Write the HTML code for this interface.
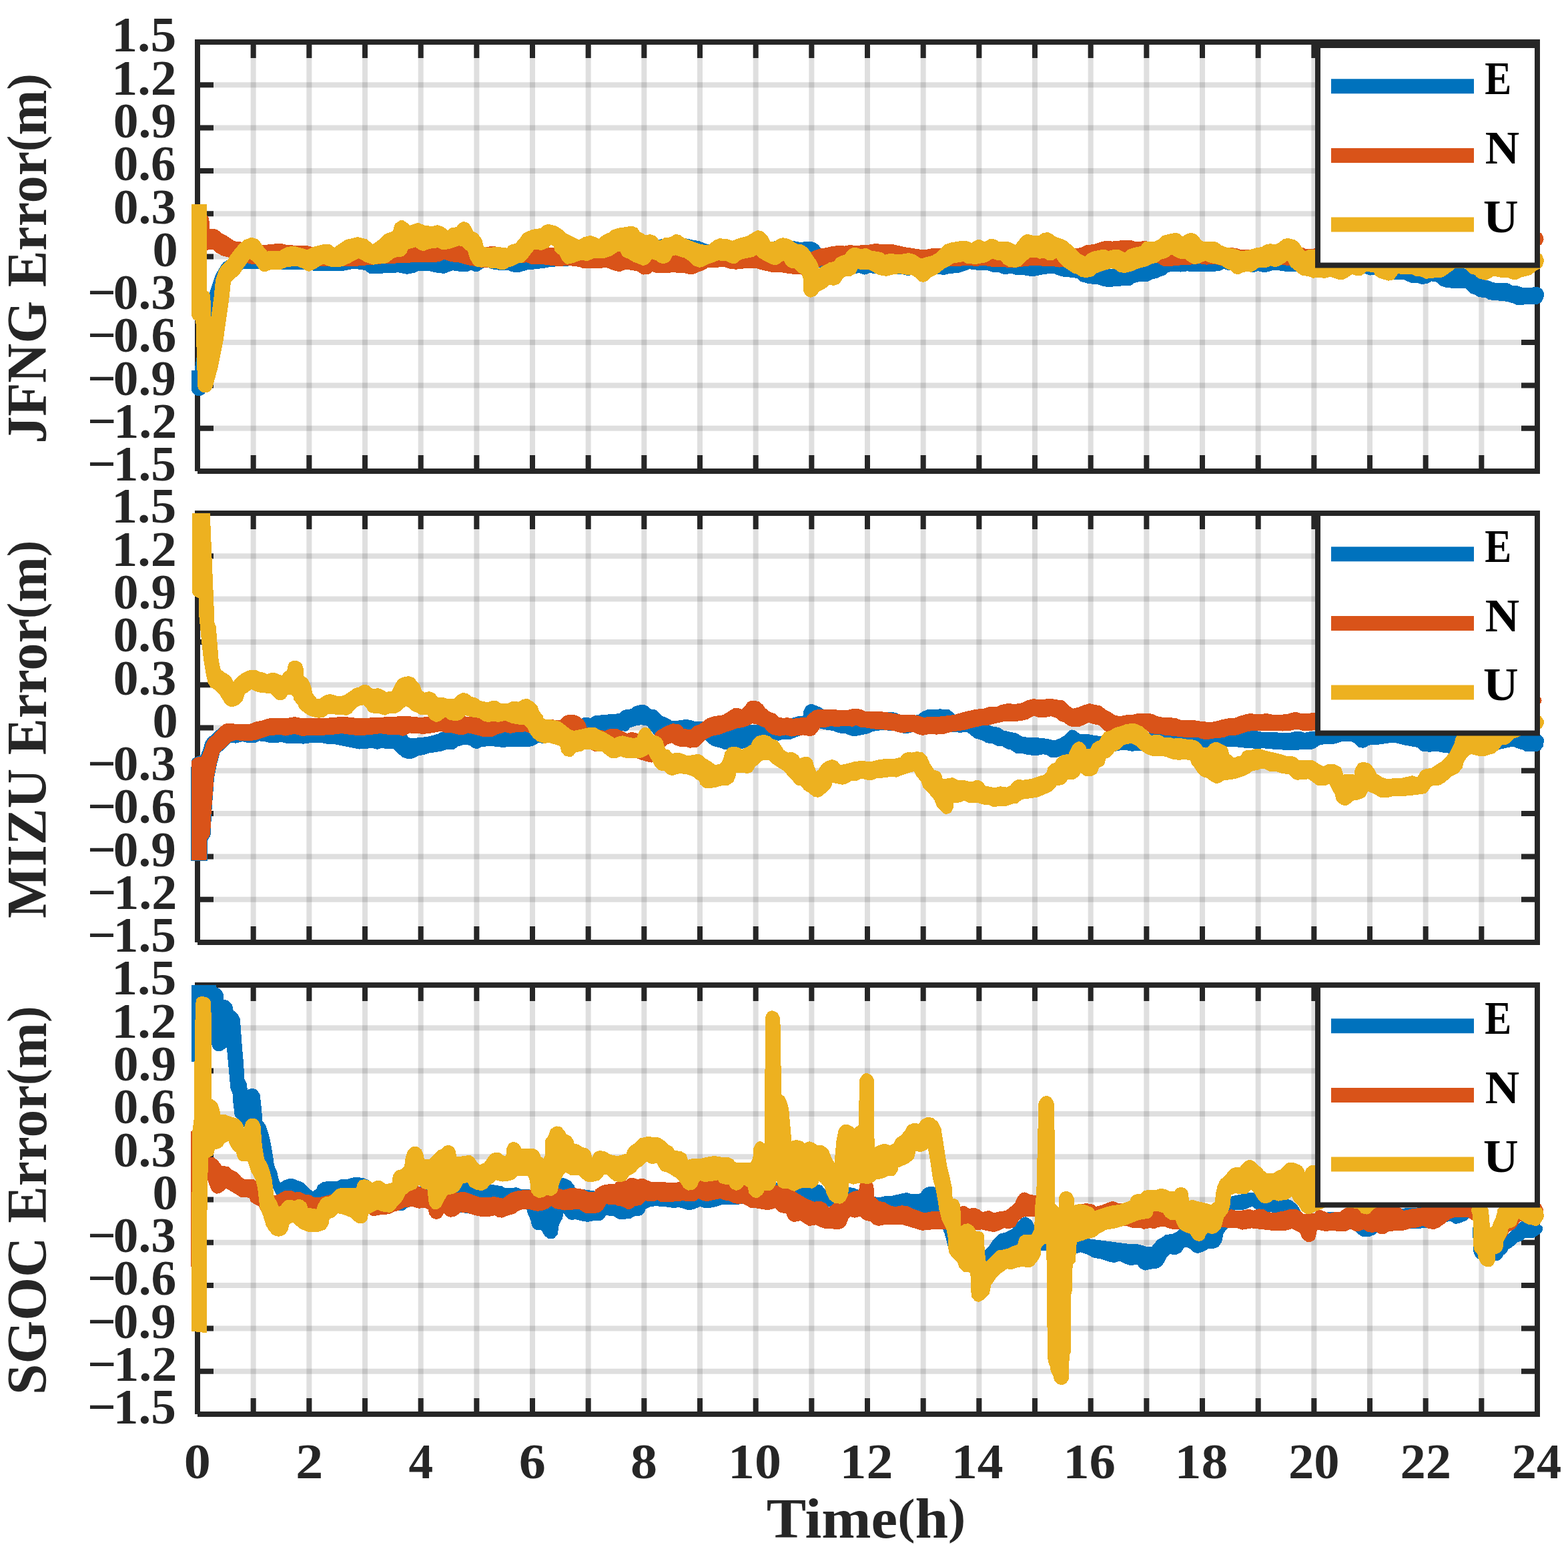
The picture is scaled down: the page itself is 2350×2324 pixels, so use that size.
<!DOCTYPE html>
<html lang="en"><head><meta charset="utf-8"><title>Positioning error of JFNG, MIZU and SGOC</title>
<style>html,body{margin:0;padding:0;background:#fff}body{width:2350px;height:2324px;overflow:hidden}svg{display:block}text{font-family:"Liberation Serif","DejaVu Serif",serif;font-weight:bold}</style>
</head><body>
<svg xmlns="http://www.w3.org/2000/svg" width="2350" height="2324" viewBox="0 0 2350 2324">
<rect width="2350" height="2324" fill="#fff"/>
<g id="panel1">
<path d="M379.67 63.00V706.00M463.33 63.00V706.00M547.00 63.00V706.00M630.67 63.00V706.00M714.33 63.00V706.00M798.00 63.00V706.00M881.67 63.00V706.00M965.33 63.00V706.00M1049.00 63.00V706.00M1132.67 63.00V706.00M1216.33 63.00V706.00M1300.00 63.00V706.00M1383.67 63.00V706.00M1467.33 63.00V706.00M1551.00 63.00V706.00M1634.67 63.00V706.00M1718.33 63.00V706.00M1802.00 63.00V706.00M1885.67 63.00V706.00M1969.33 63.00V706.00M2053.00 63.00V706.00M2136.67 63.00V706.00M2220.33 63.00V706.00" stroke="#262626" stroke-opacity="0.15" stroke-width="8" fill="none"/>
<path d="M296.00 127.30H2304.00M296.00 191.60H2304.00M296.00 255.90H2304.00M296.00 320.20H2304.00M296.00 384.50H2304.00M296.00 448.80H2304.00M296.00 513.10H2304.00M296.00 577.40H2304.00M296.00 641.70H2304.00" stroke="#262626" stroke-opacity="0.15" stroke-width="8" fill="none"/>
<path d="M379.67 63.00v24M379.67 706.00v-24M463.33 63.00v24M463.33 706.00v-24M547.00 63.00v24M547.00 706.00v-24M630.67 63.00v24M630.67 706.00v-24M714.33 63.00v24M714.33 706.00v-24M798.00 63.00v24M798.00 706.00v-24M881.67 63.00v24M881.67 706.00v-24M965.33 63.00v24M965.33 706.00v-24M1049.00 63.00v24M1049.00 706.00v-24M1132.67 63.00v24M1132.67 706.00v-24M1216.33 63.00v24M1216.33 706.00v-24M1300.00 63.00v24M1300.00 706.00v-24M1383.67 63.00v24M1383.67 706.00v-24M1467.33 63.00v24M1467.33 706.00v-24M1551.00 63.00v24M1551.00 706.00v-24M1634.67 63.00v24M1634.67 706.00v-24M1718.33 63.00v24M1718.33 706.00v-24M1802.00 63.00v24M1802.00 706.00v-24M1885.67 63.00v24M1885.67 706.00v-24M1969.33 63.00v24M1969.33 706.00v-24M2053.00 63.00v24M2053.00 706.00v-24M2136.67 63.00v24M2136.67 706.00v-24M2220.33 63.00v24M2220.33 706.00v-24M296.00 127.30h24M2304.00 127.30h-24M296.00 191.60h24M2304.00 191.60h-24M296.00 255.90h24M2304.00 255.90h-24M296.00 320.20h24M2304.00 320.20h-24M296.00 384.50h24M2304.00 384.50h-24M296.00 448.80h24M2304.00 448.80h-24M296.00 513.10h24M2304.00 513.10h-24M296.00 577.40h24M2304.00 577.40h-24M296.00 641.70h24M2304.00 641.70h-24" stroke="#262626" stroke-width="8" fill="none"/>
<path d="M296.0 706.0V63.0H2304.0V706.0H296.0" fill="none" stroke="#262626" stroke-width="8" stroke-linejoin="miter"/>
<clipPath id="clip0"><rect x="282.0" y="63.0" width="2036.0" height="643.0"/></clipPath>
<g clip-path="url(#clip0)" shape-rendering="crispEdges">
<path d="M286.8 555.8L287.0 583.7L287.5 585.9L289.1 588.9L292.5 591.9L296.7 593.4L301.2 593.1L305.3 591.1L308.2 587.7L309.7 583.8L316.4 546.8L323.3 501.9L330.2 464.9L338.0 439.5L344.5 419.9L350.3 410.4L357.2 406.3L363.9 403.6L368.0 402.6L386.6 402.6L405.7 403.7L425.9 404.1L452.5 404.1L471.7 405.7L514.9 405.7L531.2 402.6L546.7 404.9L553.0 409.3L554.7 410.1L556.5 410.4L569.8 410.4L575.7 409.2L597.0 408.4L609.7 410.9L621.5 408.6L627.0 406.1L642.2 405.8L650.4 408.0L664.2 409.8L667.0 409.5L678.1 405.3L692.5 407.3L701.4 406.7L706.0 404.6L710.5 406.7L715.0 406.9L716.9 406.6L718.6 405.7L723.3 402.2L729.2 399.9L736.2 403.1L748.3 404.8L761.8 404.9L766.8 407.1L769.3 407.6L779.6 407.6L790.1 404.5L815.9 401.8L824.2 399.9L855.6 398.3L917.8 396.8L995.1 390.6L1057.7 393.7L1182.1 387.5L1213.0 393.7L1228.6 402.0L1238.0 401.4L1260.2 407.7L1280.8 409.9L1287.6 409.2L1294.8 411.6L1297.5 411.3L1303.3 409.2L1312.7 410.0L1354.3 411.5L1360.7 413.2L1365.5 412.3L1404.0 410.8L1414.5 411.9L1416.6 411.7L1423.4 410.0L1438.1 408.6L1452.9 403.3L1461.8 404.2L1467.4 405.3L1480.7 405.3L1487.7 407.7L1497.7 408.4L1504.0 410.9L1509.3 411.1L1514.9 409.5L1521.5 411.7L1523.7 411.9L1530.4 411.5L1546.4 414.2L1548.6 414.1L1564.7 411.0L1578.5 409.5L1583.3 411.6L1591.8 414.4L1609.5 416.2L1615.4 417.6L1618.8 421.3L1620.4 422.1L1632.2 425.3L1645.2 426.0L1652.0 428.7L1660.2 430.1L1679.1 428.6L1684.2 427.5L1693.4 428.0L1695.8 427.0L1700.4 423.9L1707.9 422.0L1720.4 421.7L1726.8 418.5L1734.0 416.8L1740.7 413.8L1745.4 412.5L1751.6 407.6L1763.8 406.9L1769.3 407.6L1779.4 406.4L1788.9 407.3L1812.2 407.3L1826.5 406.2L1828.7 405.6L1833.8 403.0L1840.4 404.9L1859.1 407.6L1871.0 407.3L1878.8 408.2L1885.0 406.1L1894.3 408.3L1899.4 407.5L1908.3 404.9L1914.3 404.8L1920.8 406.1L1931.8 407.3L1944.0 407.3L2046.7 410.5L2053.1 412.6L2060.9 412.0L2076.2 415.9L2091.4 418.9L2104.3 419.0L2113.6 423.5L2123.0 423.7L2129.6 425.7L2131.9 425.9L2138.7 425.1L2145.6 421.4L2153.8 422.9L2158.6 428.1L2165.9 430.5L2180.1 432.2L2195.8 431.8L2204.2 439.5L2210.5 441.8L2215.8 444.9L2227.3 446.5L2230.4 448.5L2238.5 450.1L2249.5 450.7L2258.7 451.8L2263.4 453.4L2268.1 454.4L2272.4 456.8L2274.0 457.0L2280.4 457.0L2286.1 456.2L2303.9 455.8L2306.0 455.3L2309.2 453.6L2311.7 450.1L2313.6 444.5L2314.1 439.7L2313.1 436.5L2311.7 434.4L2308.1 431.2L2306.4 430.6L2300.8 430.0L2294.2 430.9L2286.2 430.9L2280.1 430.4L2274.8 428.5L2266.3 427.8L2262.1 425.2L2260.0 424.5L2254.0 423.6L2244.2 424.1L2237.0 423.1L2232.3 420.8L2218.2 416.8L2213.1 413.7L2209.8 410.7L2203.6 409.0L2196.8 403.1L2195.2 402.4L2180.4 402.4L2177.3 404.0L2169.5 409.4L2115.0 397.8L2047.2 391.6L1912.8 386.5L1758.0 386.5L1726.0 391.3L1679.5 406.6L1672.8 403.7L1670.8 403.2L1664.4 402.8L1655.8 403.6L1642.3 406.6L1617.2 398.8L1554.7 386.5L1353.0 386.5L1275.4 383.4L1244.4 380.3L1230.6 372.6L1226.8 367.4L1222.5 364.0L1219.4 362.7L1209.4 361.7L1200.7 363.1L1188.1 360.8L1166.5 359.4L1158.5 362.1L1088.4 369.4L1060.6 366.3L1049.1 361.5L1035.8 359.0L1023.9 356.2L1010.8 354.0L986.9 359.2L979.4 361.7L917.5 374.0L793.0 377.1L715.2 380.2L562.6 383.5L437.1 380.4L361.2 380.4L359.5 380.6L347.5 385.4L334.5 393.4L332.1 396.2L323.3 411.0L316.0 432.6L307.7 459.7L300.7 498.0L291.4 555.4L287.3 555.5Z" fill="#0072BD" fill-rule="evenodd" stroke="none"/>
<path d="M310.6 322.7L308.4 320.5L305.4 319.8L302.4 320.6L301.2 321.6L299.7 324.3L299.5 368.9L300.2 371.7L301.1 373.0L303.6 374.6L308.3 375.1L318.8 373.5L324.2 378.4L332.5 383.1L344.1 386.0L358.5 390.8L376.5 395.6L397.7 395.5L421.4 394.7L452.5 396.3L476.6 399.4L515.5 398.6L535.6 398.6L570.6 395.5L622.0 393.2L647.3 393.3L659.5 392.0L665.6 388.8L675.6 392.2L687.2 393.2L699.8 396.8L723.6 401.4L747.0 401.3L777.3 394.5L789.7 393.2L794.7 395.5L797.2 396.0L811.7 396.0L835.8 399.0L847.4 398.3L855.7 398.3L867.8 399.9L874.1 402.1L886.7 401.7L898.4 402.2L908.3 400.7L921.6 405.9L926.9 407.0L930.2 406.7L938.0 403.8L947.2 404.9L956.2 406.8L960.9 410.3L962.6 411.2L964.5 411.5L971.4 411.4L973.9 410.1L977.5 406.9L981.8 408.5L983.8 408.9L1010.9 408.4L1026.2 409.2L1033.5 411.0L1039.1 410.8L1041.6 410.2L1046.9 407.5L1054.0 405.0L1060.6 401.4L1072.6 401.1L1083.7 399.6L1093.9 402.8L1103.4 403.7L1116.6 402.2L1133.9 402.2L1143.3 404.9L1155.1 407.5L1172.6 408.4L1184.8 410.4L1199.0 411.1L1204.6 412.1L1216.4 409.0L1225.7 401.5L1231.9 397.6L1244.9 399.8L1275.3 398.3L1321.9 396.8L1368.5 396.8L1429.9 399.1L1451.0 398.0L1464.4 399.0L1473.0 397.6L1486.4 399.8L1502.3 399.9L1517.1 401.4L1546.0 398.0L1578.4 399.1L1587.2 400.6L1594.7 399.7L1617.6 393.7L1711.0 393.7L1735.7 394.0L1742.0 398.4L1751.0 399.1L1763.8 398.0L1773.2 396.8L1779.9 397.0L1798.0 395.2L1808.1 396.7L1819.7 395.5L1827.9 397.6L1851.1 399.9L1882.1 399.9L1922.2 397.1L1932.9 398.0L1944.6 399.8L2084.1 392.6L2193.1 383.3L2295.8 369.5L2304.1 369.3L2308.6 367.2L2310.2 366.2L2312.9 361.5L2313.6 358.6L2313.4 355.9L2311.3 351.4L2310.1 349.9L2308.6 348.7L2304.1 346.7L2296.3 346.5L2192.8 357.5L2084.2 365.2L1968.9 372.5L1956.5 372.5L1951.4 370.6L1949.1 370.2L1867.8 374.0L1860.2 374.0L1853.5 372.1L1844.5 370.9L1788.7 367.8L1742.3 364.7L1715.8 361.0L1701.8 362.4L1695.6 359.9L1686.1 359.7L1667.2 361.6L1657.3 360.9L1655.1 361.1L1639.0 366.0L1627.7 367.4L1625.5 368.1L1621.9 370.2L1612.7 372.5L1601.6 370.9L1555.4 369.4L1508.8 369.4L1407.3 372.2L1396.9 372.2L1387.0 374.0L1381.0 374.0L1356.2 370.2L1338.1 366.1L1328.0 366.3L1311.8 365.1L1299.9 367.1L1281.7 367.8L1273.1 367.1L1265.9 368.6L1257.3 367.9L1247.6 369.0L1238.1 371.2L1228.0 372.7L1218.0 376.3L1213.1 378.7L1181.7 374.0L1088.6 374.0L1041.9 377.1L1010.7 378.7L964.3 377.1L926.7 374.0L886.5 374.0L824.2 370.9L792.9 371.7L760.5 371.7L739.2 369.0L724.6 370.1L699.6 367.8L653.4 366.3L606.8 367.8L562.4 372.5L499.9 374.1L476.3 372.5L459.7 367.8L444.8 367.8L429.4 367.0L422.4 365.0L420.2 364.8L405.7 365.9L393.0 367.5L360.3 362.4L350.8 361.2L342.6 355.1L332.1 349.6L328.0 345.9L326.3 344.8L320.8 342.7L314.2 343.4L313.3 327.4Z" fill="#D95319" fill-rule="evenodd" stroke="none"/>
<path d="M309.5 306.0L309.0 305.5L287.0 305.5L286.5 306.0L286.5 470.3L287.2 473.8L288.8 476.8L291.0 479.1L293.4 480.6L296.2 579.0L297.4 582.4L299.4 585.1L302.3 587.2L306.7 588.4L309.0 588.4L312.3 587.4L315.3 585.4L317.4 582.8L318.6 579.8L326.2 552.4L334.4 511.6L343.4 447.6L345.9 423.3L346.7 421.2L358.0 411.7L359.4 410.1L363.7 403.0L374.3 387.9L381.7 393.8L389.7 404.7L393.7 406.9L397.0 407.5L405.7 404.1L421.4 404.0L429.3 400.2L444.8 398.7L452.5 401.7L460.8 406.4L463.5 406.6L472.2 403.0L484.1 395.6L496.6 400.1L511.4 399.5L513.4 399.0L523.8 394.5L537.5 387.0L547.1 392.5L559.4 396.8L570.5 394.7L578.4 394.5L580.3 394.1L581.9 393.2L591.3 385.9L604.3 384.2L606.9 382.2L609.5 378.7L611.6 373.4L622.8 370.4L627.3 373.7L632.3 375.7L635.3 376.1L644.1 372.7L656.2 371.2L660.9 373.5L664.1 374.1L672.7 373.2L687.4 368.4L692.5 368.8L695.7 372.7L700.9 376.4L704.4 387.8L708.4 394.6L712.3 399.0L715.2 400.1L722.5 400.6L729.2 399.9L735.4 402.1L743.1 401.5L746.5 403.1L749.2 403.8L757.3 403.5L762.1 400.6L768.8 398.8L777.5 394.4L783.1 393.6L785.3 392.2L789.9 387.6L800.9 373.5L810.1 374.8L813.0 374.5L822.5 370.8L825.7 366.6L829.7 368.7L831.3 375.5L833.0 377.7L839.1 382.6L842.3 390.3L848.0 395.2L850.8 395.9L860.0 393.7L871.1 389.8L880.4 391.1L891.3 386.7L905.8 386.7L907.8 386.3L917.1 383.0L925.6 377.3L929.7 376.7L931.8 381.9L933.7 384.4L942.3 388.2L948.9 392.3L963.5 397.9L966.4 397.5L972.1 394.9L976.9 388.3L982.6 389.8L988.9 394.2L993.8 395.0L996.8 394.7L1001.4 392.8L1003.6 391.2L1008.0 383.5L1012.3 382.4L1026.1 386.6L1033.8 392.0L1040.1 398.1L1048.1 400.9L1055.1 399.3L1062.3 395.2L1069.6 393.0L1076.1 390.3L1088.3 391.3L1093.5 393.9L1095.6 394.5L1101.7 394.9L1104.5 393.7L1110.4 389.0L1119.5 386.7L1129.0 385.0L1133.2 382.2L1138.8 386.9L1147.5 391.9L1155.0 395.7L1160.1 397.1L1161.9 397.3L1163.7 396.9L1167.4 395.5L1169.2 394.4L1174.2 390.1L1177.3 395.7L1178.7 397.3L1182.0 400.2L1183.6 401.1L1185.3 401.6L1191.2 402.2L1196.5 408.0L1201.9 411.3L1203.7 418.1L1204.3 436.7L1207.1 441.6L1208.4 443.0L1210.0 444.0L1214.7 445.7L1217.7 445.3L1222.7 443.1L1227.5 437.0L1235.7 432.8L1242.8 427.1L1250.5 427.9L1256.8 425.4L1258.3 424.4L1259.5 423.0L1263.2 416.8L1267.5 413.9L1275.4 413.6L1280.5 410.7L1282.6 408.5L1285.6 403.0L1293.1 404.4L1301.6 403.8L1316.1 411.5L1318.0 412.1L1326.8 413.7L1329.3 413.6L1337.6 411.5L1348.2 410.0L1356.6 411.5L1365.2 411.5L1372.8 416.1L1377.6 421.3L1379.3 422.0L1384.0 422.9L1390.4 420.6L1395.2 415.3L1405.0 410.6L1415.8 402.1L1423.1 398.5L1429.7 393.7L1438.0 393.4L1443.4 391.9L1449.6 395.1L1462.9 395.8L1477.8 393.2L1487.8 387.5L1493.1 389.7L1499.1 389.8L1504.5 395.6L1511.7 399.7L1522.7 401.0L1529.1 398.9L1535.3 393.7L1540.1 388.9L1544.6 385.6L1552.1 385.6L1558.4 387.9L1564.5 386.7L1569.1 389.4L1570.7 390.0L1572.5 390.2L1578.7 389.6L1583.1 386.9L1587.9 393.9L1593.3 399.3L1607.0 408.5L1608.9 409.4L1614.1 410.7L1618.8 414.4L1625.7 416.0L1627.7 416.0L1637.7 414.3L1642.7 409.8L1651.7 406.1L1665.5 402.2L1671.5 403.7L1676.3 407.4L1684.4 409.0L1687.0 408.9L1696.9 406.2L1706.6 402.2L1718.4 399.2L1726.7 395.2L1734.5 393.4L1739.3 389.0L1747.5 386.9L1749.4 386.0L1756.1 381.4L1760.8 384.5L1765.8 386.9L1768.0 387.5L1776.1 388.2L1782.7 393.1L1788.6 395.8L1795.6 395.3L1797.5 394.8L1805.8 390.9L1813.7 393.7L1830.4 397.5L1837.5 402.5L1844.3 404.8L1849.1 409.7L1854.8 411.2L1857.5 410.6L1861.8 408.4L1869.3 406.9L1873.7 407.6L1876.3 407.5L1881.6 404.7L1886.7 400.7L1897.4 401.3L1904.4 398.4L1909.8 400.0L1915.1 399.3L1917.1 398.5L1925.3 393.8L1929.8 390.5L1934.4 399.6L1947.1 410.1L1951.6 412.9L1960.9 413.9L1967.2 416.7L1978.6 415.9L1984.8 417.0L1994.1 414.8L2005.5 418.7L2007.6 419.0L2012.8 418.8L2015.9 417.8L2026.8 411.0L2031.8 412.7L2034.0 413.1L2040.8 412.5L2045.1 409.8L2046.4 408.6L2047.3 406.9L2059.0 408.1L2060.4 411.8L2061.3 412.9L2067.8 417.0L2081.1 420.8L2087.0 419.5L2089.5 418.1L2095.3 410.1L2104.9 411.5L2116.7 411.3L2123.0 414.2L2129.1 414.4L2137.0 417.9L2146.5 416.7L2160.5 415.7L2163.3 414.7L2169.8 410.4L2177.4 405.1L2180.8 402.2L2195.8 402.2L2197.2 403.3L2200.3 407.0L2204.3 410.2L2210.4 412.0L2212.6 414.9L2217.3 417.5L2225.0 419.6L2228.3 419.5L2239.0 413.6L2251.1 416.2L2260.8 416.4L2265.0 418.3L2267.2 418.9L2273.6 418.8L2278.9 415.7L2294.6 411.8L2304.0 404.2L2308.2 402.4L2310.6 400.3L2312.1 397.8L2313.9 391.3L2313.5 387.7L2310.6 381.4L2308.4 379.7L2304.1 377.7L2295.9 377.5L2210.8 364.6L2084.4 377.6L1967.2 374.0L1961.0 374.2L1956.5 376.3L1953.7 374.2L1946.9 364.4L1942.2 360.3L1939.7 359.0L1930.0 356.8L1923.6 358.4L1917.3 363.2L1911.3 366.5L1904.6 365.2L1898.6 365.8L1896.1 366.7L1891.0 370.2L1884.0 370.9L1870.9 374.8L1860.2 376.3L1855.0 373.9L1847.6 372.1L1838.5 370.6L1831.0 367.9L1825.3 363.7L1819.8 361.7L1808.9 362.4L1801.4 361.3L1797.1 355.9L1793.1 351.8L1790.7 350.4L1787.3 349.2L1783.9 349.1L1778.7 350.5L1776.7 351.4L1772.4 354.5L1768.7 350.9L1762.3 348.7L1748.1 351.6L1742.0 353.4L1737.1 358.3L1731.1 361.6L1716.6 361.9L1715.0 362.6L1713.7 363.8L1709.2 369.1L1698.9 371.2L1691.6 373.7L1689.8 374.8L1685.6 378.3L1679.2 374.9L1676.9 374.3L1669.2 373.9L1660.9 375.9L1656.3 373.9L1651.9 374.0L1639.6 376.3L1632.4 379.0L1630.1 380.6L1626.6 384.5L1617.7 379.6L1612.6 373.5L1607.0 368.8L1599.8 362.1L1592.2 358.1L1581.9 354.7L1576.5 350.5L1572.4 348.6L1569.2 348.1L1562.9 349.1L1556.7 353.1L1549.1 353.1L1540.4 350.8L1537.8 351.2L1534.5 352.6L1532.3 354.2L1526.8 360.4L1521.8 366.9L1516.0 363.8L1509.6 361.9L1496.4 361.6L1491.7 358.7L1485.7 357.9L1483.8 358.0L1482.0 358.7L1476.1 362.3L1471.0 359.8L1467.0 359.0L1465.2 359.1L1463.5 359.7L1455.9 363.9L1450.8 361.7L1448.7 361.3L1441.0 360.9L1426.7 363.1L1415.4 366.8L1403.8 378.8L1396.4 383.3L1388.1 385.1L1380.9 387.6L1371.1 381.6L1362.3 378.9L1352.6 380.6L1343.8 381.0L1334.3 379.6L1326.6 381.7L1322.0 378.2L1306.5 375.6L1299.2 372.1L1296.6 372.1L1290.8 373.2L1283.9 371.2L1278.3 371.1L1271.9 374.2L1265.7 381.8L1259.0 383.7L1253.4 386.8L1250.1 391.9L1243.2 393.1L1227.5 401.7L1225.8 395.5L1223.2 390.3L1218.2 383.4L1213.8 376.2L1209.4 371.0L1203.7 367.0L1201.1 366.1L1194.7 365.5L1182.3 357.9L1174.0 356.4L1171.6 356.5L1166.4 357.9L1160.2 362.4L1154.5 361.6L1150.3 354.0L1144.6 348.0L1142.1 346.5L1136.3 345.0L1133.2 345.7L1119.3 353.9L1107.4 356.9L1097.7 360.8L1089.4 358.1L1077.5 357.2L1070.1 360.6L1061.8 367.0L1051.3 366.3L1042.1 363.2L1024.3 356.2L1020.2 352.6L1014.5 351.2L1011.6 351.3L1004.4 355.4L995.2 356.4L989.1 360.7L987.1 359.4L984.2 355.4L981.5 353.3L975.1 351.0L967.5 352.3L964.0 349.8L958.4 347.0L956.3 343.3L954.5 341.4L947.2 338.5L927.2 341.7L918.6 344.2L916.5 345.4L912.7 348.5L904.3 352.1L897.4 357.6L892.7 355.3L885.0 352.9L874.9 355.2L867.9 359.2L847.6 349.3L842.5 344.3L835.9 339.7L834.1 338.9L822.4 335.7L814.5 337.8L809.8 342.2L798.3 343.7L786.3 348.6L783.9 350.6L778.5 358.0L772.5 364.8L764.0 367.1L761.8 369.0L760.1 371.7L745.5 369.8L733.9 370.9L725.0 370.2L722.2 359.1L721.3 357.1L715.4 349.5L709.4 347.0L706.8 341.2L702.8 335.5L700.8 333.7L699.6 333.1L695.1 332.0L692.1 332.7L688.6 334.6L684.0 340.2L674.8 341.8L671.0 345.1L665.0 340.4L656.3 337.1L646.8 339.1L636.2 337.6L628.8 334.5L626.1 334.0L614.5 337.5L611.8 335.0L605.2 330.7L601.9 329.7L598.7 330.7L592.3 335.1L590.9 337.8L589.1 346.2L576.9 350.9L567.1 360.0L558.7 366.1L550.2 358.6L535.9 355.0L519.4 359.0L517.6 359.7L507.5 366.2L501.4 370.8L495.1 366.5L484.9 366.0L468.8 370.0L460.5 374.1L441.3 368.9L439.0 368.8L430.1 370.0L428.0 370.8L418.0 376.4L400.5 376.5L393.5 368.1L388.3 360.3L386.3 358.4L379.1 356.1L377.3 355.8L375.5 356.1L366.2 359.4L357.9 366.7L350.1 376.0L343.4 385.4L342.3 388.4L331.1 399.6L328.3 403.9L323.1 419.5L320.6 444.7L316.3 475.4L315.3 443.1L314.7 441.0L313.1 438.0L309.5 434.8Z" fill="#EDB120" fill-rule="evenodd" stroke="none"/>
</g>
<rect x="1975.0" y="68.0" width="329.0" height="329.5" fill="#fff" stroke="#262626" stroke-width="8"/>
<line x1="1995" y1="129.2" x2="2209" y2="129.2" stroke="#0072BD" stroke-width="22"/>
<text transform="translate(2225.14 141.00) scale(0.8571 1)" font-size="70" fill="#000">E</text>
<line x1="1995" y1="233.0" x2="2209" y2="233.0" stroke="#D95319" stroke-width="22"/>
<text transform="translate(2225.68 245.00) scale(1.0163 1)" font-size="70" fill="#000">N</text>
<line x1="1995" y1="336.5" x2="2209" y2="336.5" stroke="#EDB120" stroke-width="22"/>
<text transform="translate(2222.91 348.30) scale(1.0426 1)" font-size="70" fill="#000">U</text>
<text transform="translate(167.30 77.30) scale(1.0341 1)" font-size="75" fill="#262626">1.5</text>
<text transform="translate(167.26 141.60) scale(1.0400 1)" font-size="75" fill="#262626">1.2</text>
<text transform="translate(169.68 205.90) scale(1.0080 1)" font-size="75" fill="#262626">0.9</text>
<text transform="translate(169.69 270.20) scale(1.0022 1)" font-size="75" fill="#262626">0.6</text>
<text transform="translate(169.68 334.50) scale(1.0080 1)" font-size="75" fill="#262626">0.3</text>
<text transform="translate(228.54 398.80) scale(1.0187 1)" font-size="75" fill="#262626">0</text>
<text transform="translate(130.99 463.10) scale(1.0032 1)" font-size="75" fill="#262626" dx="0 -4">−0.3</text>
<text transform="translate(130.97 527.40) scale(1.0071 1)" font-size="75" fill="#262626" dx="0 -4">−0.6</text>
<text transform="translate(130.99 591.70) scale(1.0032 1)" font-size="75" fill="#262626" dx="0 -4">−0.9</text>
<text transform="translate(130.94 656.00) scale(1.0152 1)" font-size="75" fill="#262626" dx="0 -4">−1.2</text>
<text transform="translate(130.99 720.30) scale(1.0032 1)" font-size="75" fill="#262626" dx="0 -4">−1.5</text>
<text transform="translate(69.00 664.86) rotate(-90) scale(0.9647 1)" font-size="85" fill="#262626" aria-label="JFNG Error(m)">JFNG Error<tspan font-size="75" dy="-7.2">(</tspan><tspan dy="7.2">m</tspan><tspan font-size="75" dy="-7.2">)</tspan></text>
</g>
<g id="panel2">
<path d="M379.67 769.00V1412.00M463.33 769.00V1412.00M547.00 769.00V1412.00M630.67 769.00V1412.00M714.33 769.00V1412.00M798.00 769.00V1412.00M881.67 769.00V1412.00M965.33 769.00V1412.00M1049.00 769.00V1412.00M1132.67 769.00V1412.00M1216.33 769.00V1412.00M1300.00 769.00V1412.00M1383.67 769.00V1412.00M1467.33 769.00V1412.00M1551.00 769.00V1412.00M1634.67 769.00V1412.00M1718.33 769.00V1412.00M1802.00 769.00V1412.00M1885.67 769.00V1412.00M1969.33 769.00V1412.00M2053.00 769.00V1412.00M2136.67 769.00V1412.00M2220.33 769.00V1412.00" stroke="#262626" stroke-opacity="0.15" stroke-width="8" fill="none"/>
<path d="M296.00 833.30H2304.00M296.00 897.60H2304.00M296.00 961.90H2304.00M296.00 1026.20H2304.00M296.00 1090.50H2304.00M296.00 1154.80H2304.00M296.00 1219.10H2304.00M296.00 1283.40H2304.00M296.00 1347.70H2304.00" stroke="#262626" stroke-opacity="0.15" stroke-width="8" fill="none"/>
<path d="M379.67 769.00v24M379.67 1412.00v-24M463.33 769.00v24M463.33 1412.00v-24M547.00 769.00v24M547.00 1412.00v-24M630.67 769.00v24M630.67 1412.00v-24M714.33 769.00v24M714.33 1412.00v-24M798.00 769.00v24M798.00 1412.00v-24M881.67 769.00v24M881.67 1412.00v-24M965.33 769.00v24M965.33 1412.00v-24M1049.00 769.00v24M1049.00 1412.00v-24M1132.67 769.00v24M1132.67 1412.00v-24M1216.33 769.00v24M1216.33 1412.00v-24M1300.00 769.00v24M1300.00 1412.00v-24M1383.67 769.00v24M1383.67 1412.00v-24M1467.33 769.00v24M1467.33 1412.00v-24M1551.00 769.00v24M1551.00 1412.00v-24M1634.67 769.00v24M1634.67 1412.00v-24M1718.33 769.00v24M1718.33 1412.00v-24M1802.00 769.00v24M1802.00 1412.00v-24M1885.67 769.00v24M1885.67 1412.00v-24M1969.33 769.00v24M1969.33 1412.00v-24M2053.00 769.00v24M2053.00 1412.00v-24M2136.67 769.00v24M2136.67 1412.00v-24M2220.33 769.00v24M2220.33 1412.00v-24M296.00 833.30h24M2304.00 833.30h-24M296.00 897.60h24M2304.00 897.60h-24M296.00 961.90h24M2304.00 961.90h-24M296.00 1026.20h24M2304.00 1026.20h-24M296.00 1090.50h24M2304.00 1090.50h-24M296.00 1154.80h24M2304.00 1154.80h-24M296.00 1219.10h24M2304.00 1219.10h-24M296.00 1283.40h24M2304.00 1283.40h-24M296.00 1347.70h24M2304.00 1347.70h-24" stroke="#262626" stroke-width="8" fill="none"/>
<path d="M296.0 1412.0V769.0H2304.0V1412.0H296.0" fill="none" stroke="#262626" stroke-width="8" stroke-linejoin="miter"/>
<clipPath id="clip1"><rect x="282.0" y="769.0" width="2036.0" height="643.0"/></clipPath>
<g clip-path="url(#clip1)" shape-rendering="crispEdges">
<path d="M286.3 1290.0L310.5 1290.0L311.0 1289.6L311.5 1258.6L314.7 1253.5L315.6 1250.6L317.0 1220.0L321.0 1165.3L325.0 1145.2L329.5 1128.3L344.1 1114.6L345.5 1112.5L353.8 1113.7L363.2 1111.2L373.5 1113.4L380.7 1113.5L383.4 1112.9L388.4 1110.4L395.9 1111.1L406.4 1113.5L413.8 1113.2L421.3 1112.0L429.9 1113.8L443.1 1113.5L455.0 1114.7L468.4 1112.8L482.3 1113.2L490.7 1114.8L502.9 1115.4L538.2 1122.6L557.8 1121.1L565.7 1122.8L572.0 1121.1L581.2 1122.1L589.3 1121.7L595.5 1127.9L603.3 1134.7L610.1 1136.9L612.4 1137.1L618.0 1136.6L620.1 1136.0L627.1 1132.5L634.9 1131.0L644.1 1128.3L661.9 1125.7L668.8 1123.3L678.9 1123.5L681.5 1122.3L686.0 1118.6L696.7 1115.5L704.2 1117.0L708.9 1120.8L714.6 1122.2L717.3 1121.5L721.6 1119.4L730.8 1118.1L743.0 1118.6L753.1 1120.0L755.1 1120.0L761.9 1118.6L773.9 1119.1L780.7 1118.6L792.3 1119.2L800.0 1117.3L807.0 1113.2L815.2 1113.9L839.1 1111.7L871.2 1103.0L902.2 1096.0L933.0 1095.2L937.6 1095.9L940.7 1094.8L944.3 1090.5L953.5 1087.4L961.1 1086.2L970.1 1087.7L979.2 1099.4L981.1 1101.5L983.4 1102.9L1011.0 1106.1L1055.6 1107.6L1060.6 1112.5L1067.1 1117.1L1069.1 1118.0L1079.2 1120.4L1085.6 1123.0L1088.1 1123.4L1106.5 1123.2L1112.8 1122.0L1119.8 1119.2L1127.4 1116.8L1135.7 1109.2L1151.3 1107.7L1158.7 1108.0L1166.6 1109.8L1174.4 1107.7L1185.3 1107.8L1193.2 1104.5L1228.7 1091.4L1238.3 1093.7L1248.7 1094.9L1255.6 1097.9L1257.6 1098.4L1267.4 1099.1L1274.5 1102.3L1280.5 1103.2L1282.5 1103.1L1301.1 1099.2L1308.0 1096.0L1319.0 1094.4L1329.7 1094.5L1340.4 1095.2L1355.0 1098.9L1356.9 1099.0L1363.0 1098.4L1368.5 1096.8L1384.4 1098.3L1432.4 1096.8L1437.7 1097.8L1439.9 1097.8L1448.0 1096.5L1453.9 1100.4L1460.4 1105.9L1471.2 1109.2L1479.1 1113.4L1486.8 1113.9L1494.6 1117.6L1502.3 1118.2L1508.6 1122.2L1514.7 1123.5L1522.6 1128.8L1531.9 1129.1L1541.7 1131.3L1554.4 1132.1L1563.1 1130.2L1569.0 1131.2L1573.8 1134.5L1582.1 1135.2L1584.4 1134.9L1591.1 1132.5L1633.2 1130.9L1669.9 1126.3L1678.2 1124.4L1687.2 1124.0L1697.1 1125.9L1703.3 1124.7L1711.2 1124.7L1801.0 1120.1L1809.4 1120.8L1850.8 1118.8L1860.5 1120.4L1872.4 1120.8L1881.4 1121.9L1894.3 1121.3L1905.2 1122.4L1919.2 1123.2L1929.6 1124.4L1940.4 1124.4L1948.7 1123.2L1959.3 1123.2L1967.4 1122.5L1970.3 1121.4L1977.3 1116.6L1986.4 1114.7L1997.9 1115.0L1999.8 1114.7L2011.5 1111.2L2025.1 1111.2L2031.1 1114.2L2034.5 1118.1L2036.6 1119.7L2043.1 1120.9L2045.9 1120.1L2051.8 1116.6L2068.5 1115.4L2082.7 1113.2L2093.5 1113.5L2104.4 1116.3L2124.4 1120.0L2129.1 1124.3L2130.7 1125.3L2132.6 1125.8L2142.2 1126.7L2154.1 1125.9L2166.1 1128.2L2172.4 1128.7L2204.3 1127.7L2223.4 1126.1L2246.6 1123.1L2261.2 1119.8L2268.2 1118.6L2274.9 1121.6L2281.7 1123.4L2286.0 1125.9L2296.7 1126.4L2303.9 1126.0L2309.3 1123.2L2312.6 1118.4L2314.3 1109.2L2314.0 1107.7L2312.4 1104.9L2308.1 1100.7L2295.4 1097.5L2210.2 1094.5L2192.5 1092.3L1963.3 1096.1L1954.9 1098.1L1949.9 1095.9L1947.5 1095.5L1941.6 1095.7L1934.6 1097.6L1922.4 1098.1L1909.5 1097.0L1894.3 1097.3L1881.3 1094.7L1879.4 1094.6L1835.1 1098.9L1757.3 1095.8L1651.6 1103.2L1642.5 1102.3L1632.4 1100.4L1619.1 1100.1L1612.4 1095.3L1609.4 1093.9L1606.5 1093.4L1603.8 1094.3L1600.8 1096.2L1595.2 1102.2L1587.7 1106.7L1580.1 1109.4L1569.0 1106.9L1555.6 1105.4L1543.0 1105.1L1532.2 1103.9L1525.3 1099.5L1523.4 1098.7L1504.3 1094.6L1497.9 1090.1L1488.6 1088.8L1480.7 1085.6L1431.3 1071.0L1427.0 1066.7L1423.4 1064.0L1421.8 1063.1L1420.1 1062.8L1407.7 1062.4L1397.9 1063.5L1390.1 1063.0L1382.8 1066.1L1376.0 1071.0L1368.2 1072.5L1350.0 1071.7L1342.2 1067.7L1336.1 1067.2L1306.3 1067.8L1259.8 1067.8L1235.1 1063.5L1229.8 1059.8L1217.1 1054.8L1213.8 1055.3L1209.9 1057.0L1208.4 1058.1L1207.2 1059.6L1204.3 1065.1L1203.4 1072.5L1197.0 1073.1L1181.8 1077.2L1151.0 1086.4L1073.1 1086.5L1055.3 1080.9L1053.3 1080.6L1041.9 1081.0L1035.2 1078.9L1027.2 1078.0L1017.0 1079.5L1006.3 1079.5L1001.5 1076.8L992.5 1072.6L983.5 1063.9L981.0 1063.0L975.3 1062.4L970.1 1057.9L965.9 1055.9L960.4 1055.7L950.1 1058.7L945.4 1062.4L939.9 1062.8L934.4 1064.3L931.8 1065.8L928.3 1069.4L917.9 1069.7L908.2 1070.9L892.6 1072.1L889.8 1072.9L884.9 1075.9L879.4 1074.9L874.7 1075.4L873.3 1075.8L870.7 1077.2L792.9 1095.1L684.4 1095.1L663.7 1096.3L661.2 1097.0L656.1 1099.8L640.6 1103.9L617.5 1106.3L612.3 1105.2L610.5 1102.1L608.5 1099.9L607.3 1099.0L604.4 1098.1L437.1 1093.7L345.6 1093.7L345.3 1091.4L343.8 1088.7L341.2 1087.1L339.7 1086.9L333.0 1088.2L330.5 1089.4L324.0 1094.8L317.7 1101.1L311.2 1105.8L307.6 1111.9L304.0 1123.7L300.6 1132.0L295.9 1133.0L290.5 1135.7L288.4 1137.4L286.7 1140.9L285.8 1180.1L285.8 1289.5Z" fill="#0072BD" fill-rule="evenodd" stroke="none"/>
<path d="M287.1 1288.5L309.0 1288.5L309.5 1288.1L310.3 1257.7L313.9 1252.6L315.1 1249.4L316.5 1219.8L320.5 1165.1L324.5 1144.6L329.2 1127.3L336.9 1120.3L345.6 1111.6L353.8 1108.8L363.7 1110.4L374.7 1110.3L384.3 1108.6L402.7 1102.5L419.7 1100.7L427.6 1102.7L441.7 1099.7L451.6 1102.6L453.7 1102.8L468.5 1101.8L484.3 1101.7L499.7 1100.7L512.3 1099.1L525.0 1101.0L539.5 1102.2L557.8 1100.7L570.4 1099.1L583.7 1101.1L597.2 1101.1L603.5 1102.8L609.1 1101.3L613.7 1098.4L635.1 1099.9L647.2 1098.4L660.9 1095.8L664.4 1097.2L666.6 1097.6L674.8 1097.6L688.1 1101.1L695.2 1100.9L701.4 1098.4L713.5 1101.0L723.7 1103.9L735.8 1104.2L738.4 1103.6L745.0 1100.4L757.2 1096.9L765.0 1099.0L774.4 1096.9L788.2 1096.4L793.2 1098.7L795.7 1099.2L823.9 1099.2L870.7 1118.4L884.7 1123.1L891.2 1125.8L902.4 1125.9L917.7 1124.8L933.0 1127.8L960.7 1138.6L971.6 1141.7L976.7 1142.6L979.5 1141.8L984.3 1137.5L995.7 1119.9L1000.2 1115.3L1006.9 1113.1L1011.5 1116.2L1017.4 1118.4L1019.6 1118.8L1026.3 1118.5L1034.1 1120.7L1044.5 1119.5L1047.2 1118.5L1048.3 1117.6L1057.7 1107.6L1066.9 1103.0L1079.9 1100.4L1088.5 1096.8L1096.6 1094.3L1104.1 1091.3L1114.1 1090.0L1120.8 1087.6L1127.3 1084.1L1135.4 1085.9L1145.9 1090.4L1150.0 1095.8L1151.7 1097.2L1156.2 1100.1L1158.1 1100.8L1167.0 1102.8L1169.3 1102.8L1177.4 1101.4L1186.8 1103.6L1194.8 1102.2L1203.8 1101.4L1214.7 1103.5L1221.1 1101.1L1225.8 1095.2L1229.0 1090.2L1237.5 1089.8L1244.3 1088.2L1255.7 1088.9L1266.0 1087.8L1278.4 1088.8L1283.0 1086.7L1288.1 1089.3L1290.3 1089.9L1298.3 1090.5L1306.6 1092.1L1320.1 1093.3L1329.7 1093.7L1338.6 1094.9L1348.8 1097.7L1350.7 1098.0L1368.3 1096.8L1375.0 1100.0L1382.4 1102.0L1393.3 1099.9L1403.7 1100.6L1414.9 1099.9L1425.0 1096.8L1446.3 1093.7L1459.2 1090.2L1471.3 1087.5L1481.3 1086.6L1507.2 1080.5L1520.5 1081.2L1531.8 1079.7L1540.6 1077.5L1549.1 1072.8L1557.5 1075.1L1565.4 1075.3L1575.4 1073.2L1583.0 1075.8L1587.7 1080.2L1595.4 1082.7L1600.1 1086.9L1605.6 1088.8L1616.3 1089.0L1618.6 1088.6L1625.0 1086.0L1631.4 1082.5L1638.6 1085.0L1646.6 1086.6L1654.4 1094.1L1656.8 1095.4L1658.1 1095.6L1679.8 1096.8L1718.7 1095.2L1723.7 1098.4L1726.2 1099.2L1731.6 1099.9L1738.9 1099.9L1745.5 1101.5L1780.5 1105.3L1794.8 1104.9L1801.9 1107.4L1807.8 1108.3L1822.8 1105.8L1832.8 1105.4L1834.8 1104.9L1841.6 1102.2L1851.7 1102.0L1869.4 1096.5L1878.8 1094.5L1888.6 1095.5L1897.5 1094.9L1909.7 1094.9L1922.5 1095.5L1933.9 1094.9L1941.1 1092.9L1945.5 1092.9L1952.2 1094.9L1954.3 1095.2L1985.2 1093.5L2150.0 1074.5L2295.6 1058.6L2307.0 1055.0L2309.1 1053.3L2310.0 1052.0L2310.6 1049.1L2309.7 1046.2L2306.2 1042.7L2297.1 1039.8L2294.9 1039.6L1985.1 1065.5L1959.3 1069.1L1950.3 1069.1L1942.4 1066.8L1937.9 1067.5L1928.4 1070.1L1917.7 1070.9L1906.8 1070.6L1897.4 1068.7L1891.1 1070.1L1882.1 1070.2L1874.1 1068.7L1864.8 1070.9L1857.1 1073.2L1849.2 1076.4L1841.0 1076.4L1832.4 1077.9L1822.6 1080.6L1812.0 1082.6L1804.0 1081.0L1795.0 1080.2L1789.7 1078.9L1787.8 1078.8L1779.2 1079.5L1770.3 1079.0L1763.2 1076.3L1751.8 1074.9L1742.0 1074.8L1734.5 1073.3L1727.5 1070.0L1719.7 1068.6L1705.4 1069.0L1697.0 1070.9L1688.3 1071.3L1678.0 1073.2L1670.4 1071.3L1663.9 1066.9L1656.5 1063.2L1651.4 1058.8L1648.7 1057.5L1632.9 1054.1L1625.3 1056.1L1617.0 1059.4L1608.2 1061.6L1602.2 1057.8L1597.0 1052.0L1592.6 1049.1L1583.3 1048.4L1575.0 1046.6L1572.8 1046.6L1564.4 1048.0L1557.0 1048.4L1550.4 1047.1L1547.8 1047.2L1539.0 1049.5L1531.7 1053.1L1521.1 1055.1L1510.9 1054.0L1500.1 1056.0L1493.1 1059.3L1484.8 1058.9L1482.8 1059.1L1474.4 1061.6L1461.7 1062.9L1443.6 1067.0L1430.9 1070.9L1402.8 1074.3L1393.0 1074.1L1384.0 1074.8L1374.1 1071.7L1362.7 1070.7L1352.8 1071.2L1328.4 1067.1L1319.2 1066.0L1297.1 1066.3L1292.0 1063.4L1289.8 1062.7L1281.0 1061.7L1278.9 1061.9L1272.1 1063.5L1259.9 1063.9L1244.6 1062.9L1234.9 1063.5L1227.1 1062.5L1220.2 1064.5L1218.3 1065.4L1212.4 1070.0L1208.3 1074.8L1197.8 1075.6L1188.3 1076.8L1181.3 1075.4L1172.8 1075.6L1166.8 1074.8L1162.1 1069.6L1152.8 1066.2L1146.8 1061.0L1143.1 1055.8L1137.2 1051.0L1127.2 1049.6L1122.7 1051.0L1120.4 1052.3L1116.0 1058.7L1111.6 1062.8L1107.1 1061.0L1099.2 1061.5L1083.6 1071.3L1070.2 1073.2L1061.2 1076.1L1059.5 1077.0L1047.8 1085.7L1040.1 1088.2L1035.4 1092.7L1025.0 1092.4L1021.3 1087.6L1017.1 1084.9L1007.6 1084.3L999.5 1087.4L992.2 1091.1L985.3 1095.2L983.3 1097.1L980.3 1101.9L955.1 1098.9L947.1 1096.8L939.4 1098.8L925.5 1092.1L915.6 1091.9L913.4 1092.3L906.7 1095.0L879.2 1089.6L877.4 1083.8L874.4 1078.9L867.6 1073.8L861.6 1071.2L858.8 1070.7L850.6 1071.3L847.2 1072.1L839.2 1078.8L824.1 1078.3L814.4 1077.2L761.9 1076.5L715.4 1075.2L696.4 1073.4L668.8 1074.1L642.8 1073.4L634.5 1074.6L626.9 1074.6L611.6 1073.1L597.7 1073.0L590.8 1074.1L562.7 1074.8L546.7 1076.1L531.4 1075.6L514.8 1073.7L491.8 1075.6L468.3 1076.4L454.3 1076.4L442.7 1074.3L440.7 1074.2L427.5 1076.4L405.0 1076.1L403.0 1076.4L392.7 1079.6L382.8 1081.4L374.1 1085.1L360.3 1085.5L349.5 1084.3L339.1 1084.3L337.2 1084.6L335.6 1085.4L331.0 1088.8L319.0 1102.3L313.6 1106.4L312.0 1108.2L309.1 1113.5L305.5 1125.2L301.7 1133.7L297.2 1133.8L290.5 1136.9L288.2 1138.9L286.9 1141.2L286.6 1143.0L286.6 1288.0Z" fill="#D95319" fill-rule="evenodd" stroke="none"/>
<path d="M310.2 756.7L292.1 756.7L289.5 758.3L288.5 759.5L287.7 762.5L287.8 887.4L288.9 889.8L292.3 893.8L297.5 896.3L298.3 922.9L303.0 969.9L305.4 990.2L308.5 1008.9L311.5 1022.7L312.2 1024.5L315.8 1030.0L322.1 1033.4L328.3 1039.3L337.1 1053.6L338.3 1054.9L342.7 1058.3L349.1 1059.2L356.2 1056.5L357.9 1055.5L363.4 1050.4L366.8 1039.6L371.9 1036.8L376.6 1032.8L382.6 1036.0L390.8 1038.0L405.4 1039.0L414.9 1048.1L419.2 1049.4L422.0 1049.5L427.8 1046.5L431.8 1040.5L436.7 1040.5L439.6 1044.2L440.7 1049.5L446.0 1055.2L448.5 1060.9L450.4 1063.3L461.0 1071.2L462.9 1072.2L470.1 1074.3L476.9 1075.7L483.9 1075.2L485.7 1074.8L492.1 1069.6L507.7 1071.1L520.2 1071.7L526.7 1068.6L533.1 1060.8L537.5 1057.9L545.1 1056.3L549.6 1061.5L552.5 1066.2L553.8 1067.2L562.6 1069.5L567.2 1068.8L573.7 1071.2L577.1 1071.7L584.9 1068.9L594.2 1068.7L600.2 1065.2L608.2 1058.1L613.3 1060.3L617.3 1064.8L625.0 1068.1L629.8 1071.0L640.5 1071.3L645.2 1078.0L652.5 1081.6L655.3 1081.6L659.5 1080.4L667.2 1074.5L673.2 1078.8L683.0 1080.4L685.5 1080.2L692.1 1077.9L696.9 1072.1L707.6 1074.4L718.2 1075.9L724.4 1080.4L731.0 1081.9L733.7 1081.8L738.6 1080.6L746.3 1082.0L757.2 1079.8L767.0 1083.8L777.0 1085.5L785.0 1086.0L790.9 1091.2L793.7 1098.2L798.4 1104.7L805.1 1110.7L814.6 1113.8L823.9 1113.2L839.1 1117.7L841.5 1126.8L845.4 1131.5L848.0 1133.2L854.3 1133.9L856.2 1133.7L857.8 1133.0L859.2 1131.9L863.5 1127.0L871.2 1125.8L876.0 1123.2L886.5 1123.2L893.6 1125.5L901.9 1126.0L912.8 1134.5L914.5 1135.3L916.2 1135.7L923.9 1135.8L930.1 1133.3L935.2 1135.2L937.3 1135.6L961.2 1135.5L968.3 1132.5L971.8 1129.7L982.0 1148.5L983.1 1150.0L986.8 1153.5L989.4 1154.4L995.1 1155.0L1001.3 1160.3L1006.0 1161.8L1007.7 1162.1L1009.4 1161.8L1018.6 1158.9L1029.3 1160.4L1038.5 1163.5L1042.4 1167.0L1047.6 1169.6L1049.5 1175.6L1054.0 1179.6L1056.4 1180.8L1065.6 1180.9L1073.5 1179.7L1080.8 1177.5L1091.6 1176.5L1098.2 1172.2L1099.5 1170.9L1102.4 1163.8L1103.2 1157.7L1113.1 1158.1L1121.1 1159.0L1125.6 1157.3L1127.8 1155.7L1131.3 1149.4L1143.5 1138.7L1152.4 1139.0L1158.9 1145.1L1175.6 1155.7L1181.5 1163.1L1187.8 1169.4L1192.3 1175.1L1194.9 1176.4L1200.5 1177.5L1204.4 1182.7L1206.1 1184.2L1212.9 1188.3L1217.8 1192.6L1219.3 1193.6L1220.9 1194.0L1225.3 1194.7L1227.2 1194.6L1229.0 1194.0L1232.9 1191.8L1244.1 1181.6L1245.9 1178.7L1247.7 1172.9L1262.9 1175.8L1268.3 1174.6L1275.4 1170.5L1283.1 1170.3L1290.9 1166.4L1299.2 1168.5L1306.4 1168.9L1309.4 1168.3L1314.2 1165.9L1326.1 1165.4L1334.3 1163.9L1343.6 1164.6L1359.2 1158.9L1369.7 1155.9L1373.1 1162.3L1380.4 1171.1L1383.7 1180.3L1390.0 1186.1L1400.6 1199.0L1403.9 1208.2L1414.2 1218.4L1415.6 1219.4L1418.9 1220.0L1423.0 1218.7L1425.4 1216.9L1428.5 1210.7L1429.0 1208.7L1429.5 1203.1L1437.8 1202.4L1440.0 1201.8L1445.0 1199.3L1451.2 1202.9L1465.1 1203.1L1473.7 1205.5L1482.2 1205.8L1487.8 1208.9L1490.5 1209.1L1499.2 1207.8L1507.6 1207.8L1509.9 1207.4L1516.6 1204.7L1524.3 1203.7L1532.2 1197.7L1543.0 1196.4L1556.1 1194.3L1575.7 1185.9L1583.5 1177.5L1592.2 1176.0L1594.8 1174.9L1600.5 1168.2L1607.9 1168.2L1609.7 1167.9L1611.3 1167.1L1617.1 1162.9L1618.4 1160.5L1619.2 1157.7L1624.9 1162.0L1626.6 1162.9L1628.6 1163.2L1636.1 1163.0L1642.2 1159.8L1644.3 1157.9L1647.3 1150.2L1652.6 1147.5L1655.1 1145.2L1657.4 1137.0L1664.2 1133.8L1670.5 1126.2L1679.7 1121.4L1684.4 1116.1L1695.5 1113.9L1701.5 1116.6L1710.5 1124.4L1717.9 1129.6L1727.0 1132.9L1729.2 1133.2L1740.5 1132.5L1748.0 1134.3L1756.7 1137.5L1766.2 1138.9L1776.3 1137.9L1783.7 1139.4L1786.1 1145.4L1789.8 1149.4L1795.0 1157.7L1799.8 1162.4L1802.3 1163.9L1808.7 1165.8L1815.1 1170.6L1821.2 1173.8L1827.6 1173.4L1833.9 1169.4L1844.9 1168.1L1854.4 1166.2L1863.1 1163.3L1870.7 1159.9L1877.4 1155.0L1884.4 1154.1L1889.7 1151.9L1895.7 1152.4L1902.0 1155.6L1912.8 1156.1L1921.5 1159.0L1931.3 1160.1L1937.6 1166.4L1943.9 1168.8L1951.9 1167.9L1960.9 1167.4L1967.0 1171.2L1972.1 1175.7L1974.6 1177.0L1986.5 1177.0L1992.4 1174.5L2000.7 1190.8L2002.5 1198.3L2003.3 1200.0L2004.6 1201.5L2011.2 1206.3L2016.9 1206.9L2018.4 1206.8L2020.9 1205.6L2028.5 1199.6L2036.9 1198.2L2044.1 1194.9L2045.6 1193.9L2046.7 1192.5L2050.3 1185.8L2059.0 1189.4L2067.2 1194.2L2070.2 1195.0L2080.3 1194.8L2088.9 1192.7L2097.2 1193.4L2115.1 1191.9L2136.2 1189.1L2138.9 1186.9L2143.6 1180.1L2146.5 1177.5L2156.0 1176.9L2158.6 1176.2L2165.8 1171.9L2174.6 1163.9L2185.4 1158.3L2191.7 1150.4L2193.4 1142.7L2197.9 1135.2L2204.5 1129.8L2217.0 1133.1L2219.0 1133.4L2225.5 1132.9L2231.8 1130.8L2239.1 1129.0L2245.0 1124.3L2250.7 1116.6L2259.0 1115.4L2263.7 1112.3L2268.6 1106.7L2275.2 1104.3L2290.2 1096.5L2303.5 1094.1L2308.4 1092.2L2310.6 1090.6L2314.1 1084.1L2314.3 1082.4L2313.6 1079.5L2311.4 1075.5L2309.6 1073.5L2304.1 1071.1L2296.2 1071.0L2250.4 1074.5L2210.8 1084.3L2209.0 1085.1L2183.4 1101.9L2181.4 1105.8L2180.0 1112.8L2172.2 1128.4L2167.6 1133.7L2160.0 1141.3L2152.6 1145.8L2146.1 1150.5L2134.9 1152.7L2132.7 1153.6L2129.0 1156.2L2124.4 1164.4L2116.8 1162.1L2099.7 1166.0L2089.7 1165.6L2081.1 1167.6L2072.0 1165.0L2062.9 1159.2L2058.7 1150.8L2053.1 1144.8L2050.2 1143.2L2045.3 1142.0L2042.5 1142.0L2038.2 1143.0L2035.5 1144.5L2031.5 1150.6L2030.8 1152.7L2029.5 1160.5L2021.3 1159.5L2013.2 1160.6L2010.2 1150.9L2007.7 1148.7L2001.5 1145.6L1999.4 1145.0L1991.0 1144.5L1983.3 1148.1L1975.8 1144.4L1968.9 1139.6L1967.0 1139.3L1956.3 1139.2L1945.8 1138.5L1942.6 1135.2L1937.4 1133.1L1935.1 1132.8L1928.5 1133.0L1920.5 1130.2L1897.7 1125.0L1888.8 1122.1L1882.8 1121.9L1874.0 1124.0L1867.8 1124.0L1863.8 1126.0L1862.3 1127.2L1859.8 1132.3L1854.8 1133.3L1849.4 1135.3L1845.6 1131.9L1842.0 1130.1L1840.9 1123.3L1838.9 1119.4L1837.8 1118.3L1832.4 1116.0L1826.1 1112.3L1819.7 1111.9L1813.3 1115.4L1810.1 1119.9L1803.7 1120.6L1800.2 1115.8L1796.2 1111.6L1793.8 1110.1L1789.4 1108.7L1776.5 1107.4L1768.1 1105.6L1765.9 1105.6L1759.3 1106.6L1754.6 1104.9L1745.4 1105.1L1739.8 1101.8L1734.4 1100.5L1725.2 1101.9L1719.1 1095.0L1712.8 1089.0L1701.7 1084.3L1698.7 1083.8L1688.0 1084.9L1679.4 1088.0L1670.7 1090.6L1663.8 1094.6L1656.1 1096.8L1651.7 1101.5L1648.1 1109.1L1643.0 1110.9L1637.4 1114.8L1634.1 1122.2L1628.6 1122.2L1627.0 1117.8L1621.2 1112.1L1618.2 1111.3L1614.2 1111.6L1612.5 1112.5L1607.8 1116.2L1604.6 1122.3L1601.5 1129.7L1593.6 1131.0L1591.3 1131.9L1584.6 1136.4L1581.3 1142.5L1576.4 1144.3L1574.3 1145.7L1570.6 1149.7L1568.8 1156.6L1564.3 1161.0L1544.3 1167.2L1533.5 1168.7L1527.1 1168.1L1524.4 1168.5L1519.4 1170.6L1514.6 1176.6L1508.6 1179.6L1499.4 1178.2L1490.1 1180.4L1484.8 1178.8L1477.2 1178.1L1473.2 1172.1L1466.0 1168.6L1462.8 1168.9L1455.9 1171.5L1445.7 1169.2L1435.8 1168.8L1429.9 1165.8L1427.3 1165.1L1420.0 1166.4L1412.8 1167.2L1411.1 1160.9L1409.4 1157.4L1406.7 1155.6L1399.8 1153.3L1393.7 1144.2L1389.5 1134.4L1388.2 1132.4L1382.5 1127.4L1375.7 1126.2L1373.7 1126.2L1366.9 1127.6L1362.1 1127.0L1359.2 1127.3L1354.3 1129.4L1349.5 1134.6L1340.4 1136.9L1327.7 1137.0L1316.0 1138.4L1306.3 1141.1L1291.3 1140.1L1282.0 1140.8L1267.5 1144.7L1259.2 1146.2L1255.3 1141.1L1249.4 1138.5L1246.6 1138.1L1238.7 1140.5L1232.4 1144.9L1230.8 1146.6L1226.8 1153.4L1223.5 1156.0L1219.9 1147.4L1218.0 1139.7L1213.6 1135.4L1210.9 1134.1L1204.9 1134.2L1202.6 1134.8L1198.7 1136.7L1196.3 1131.8L1190.1 1127.8L1188.4 1127.1L1186.5 1127.0L1180.7 1127.6L1174.7 1123.9L1169.9 1116.0L1165.2 1110.0L1157.5 1106.7L1152.8 1102.9L1144.9 1100.6L1136.6 1102.5L1134.3 1103.6L1128.6 1108.5L1125.3 1116.1L1111.8 1122.9L1107.2 1120.0L1099.3 1118.5L1096.2 1118.8L1091.4 1120.9L1086.5 1127.2L1083.2 1139.6L1078.9 1144.7L1071.5 1146.2L1066.0 1141.4L1057.7 1137.0L1053.8 1133.2L1051.9 1131.9L1048.3 1130.3L1046.5 1129.9L1044.8 1130.0L1038.6 1131.2L1029.5 1132.2L1021.0 1128.6L1015.0 1127.7L1012.8 1127.8L1007.1 1129.1L1003.7 1124.5L1001.2 1123.3L997.2 1122.2L995.8 1118.6L993.8 1110.8L990.9 1106.1L986.1 1102.9L980.8 1102.0L977.8 1099.1L974.1 1092.7L973.2 1091.8L969.6 1090.2L966.5 1089.7L962.5 1091.3L957.7 1096.1L954.5 1105.1L948.7 1105.9L941.2 1104.4L933.2 1102.2L927.2 1103.5L920.8 1105.8L906.5 1097.2L899.2 1094.3L894.0 1091.0L891.8 1090.2L887.8 1089.5L885.4 1089.5L860.2 1095.0L854.2 1092.7L845.9 1085.8L839.7 1081.3L833.6 1079.6L824.3 1078.1L815.0 1077.3L813.4 1072.1L808.1 1065.8L805.6 1058.2L798.3 1051.3L792.0 1047.5L789.5 1047.1L783.5 1047.9L777.3 1051.6L767.1 1051.0L764.7 1052.0L761.7 1053.9L750.4 1053.9L746.5 1051.2L744.9 1050.3L743.0 1050.1L738.0 1050.1L735.9 1050.4L730.8 1052.4L720.2 1050.1L713.9 1045.6L706.2 1043.9L701.4 1039.5L695.3 1038.2L693.5 1038.2L691.8 1038.7L685.6 1041.7L680.9 1047.0L671.9 1047.3L664.1 1044.8L656.5 1045.4L651.8 1039.4L645.8 1036.6L643.9 1036.1L641.9 1036.2L636.2 1037.6L632.0 1034.8L629.4 1026.3L624.1 1020.7L621.9 1017.5L620.7 1016.2L619.2 1015.3L612.8 1013.0L604.4 1014.6L597.1 1017.8L592.3 1025.2L587.6 1035.4L578.8 1036.8L575.1 1034.3L567.3 1031.2L558.1 1032.0L553.3 1027.6L546.1 1025.5L543.0 1026.3L537.3 1029.7L532.0 1031.1L530.1 1032.0L515.3 1042.3L506.1 1043.0L496.4 1040.2L493.8 1040.2L487.1 1041.6L479.1 1047.0L474.9 1047.0L468.1 1038.6L467.1 1031.9L463.9 1022.6L460.7 1016.7L455.5 1013.4L454.8 1002.0L452.4 995.1L450.7 992.7L444.9 989.9L438.6 990.3L436.9 990.7L433.6 993.2L431.9 995.5L430.2 1004.8L425.8 1007.3L422.6 1012.3L412.8 1008.4L407.1 1007.9L400.2 1010.0L396.3 1007.9L390.0 1007.0L383.7 1004.0L374.1 1003.9L363.9 1008.3L355.6 1014.5L349.8 1021.5L346.9 1015.9L342.2 1010.9L335.2 1007.1L330.6 1002.7L330.0 1000.9L327.6 988.4L323.8 939.7L323.5 938.3L321.6 934.7L314.4 760.8L312.8 758.2Z" fill="#EDB120" fill-rule="evenodd" stroke="none"/>
</g>
<rect x="1975.0" y="769.0" width="329.0" height="329.5" fill="#fff" stroke="#262626" stroke-width="8"/>
<line x1="1995" y1="830.2" x2="2209" y2="830.2" stroke="#0072BD" stroke-width="22"/>
<text transform="translate(2225.14 842.00) scale(0.8571 1)" font-size="70" fill="#000">E</text>
<line x1="1995" y1="934.0" x2="2209" y2="934.0" stroke="#D95319" stroke-width="22"/>
<text transform="translate(2225.68 946.00) scale(1.0163 1)" font-size="70" fill="#000">N</text>
<line x1="1995" y1="1037.5" x2="2209" y2="1037.5" stroke="#EDB120" stroke-width="22"/>
<text transform="translate(2222.91 1049.30) scale(1.0426 1)" font-size="70" fill="#000">U</text>
<text transform="translate(167.30 783.30) scale(1.0341 1)" font-size="75" fill="#262626">1.5</text>
<text transform="translate(167.26 847.60) scale(1.0400 1)" font-size="75" fill="#262626">1.2</text>
<text transform="translate(169.68 911.90) scale(1.0080 1)" font-size="75" fill="#262626">0.9</text>
<text transform="translate(169.69 976.20) scale(1.0022 1)" font-size="75" fill="#262626">0.6</text>
<text transform="translate(169.68 1040.50) scale(1.0080 1)" font-size="75" fill="#262626">0.3</text>
<text transform="translate(228.54 1104.80) scale(1.0187 1)" font-size="75" fill="#262626">0</text>
<text transform="translate(130.99 1169.10) scale(1.0032 1)" font-size="75" fill="#262626" dx="0 -4">−0.3</text>
<text transform="translate(130.97 1233.40) scale(1.0071 1)" font-size="75" fill="#262626" dx="0 -4">−0.6</text>
<text transform="translate(130.99 1297.70) scale(1.0032 1)" font-size="75" fill="#262626" dx="0 -4">−0.9</text>
<text transform="translate(130.94 1362.00) scale(1.0152 1)" font-size="75" fill="#262626" dx="0 -4">−1.2</text>
<text transform="translate(130.99 1426.30) scale(1.0032 1)" font-size="75" fill="#262626" dx="0 -4">−1.5</text>
<text transform="translate(69.00 1375.97) rotate(-90) scale(0.9690 1)" font-size="85" fill="#262626" aria-label="MIZU Error(m)">MIZU Error<tspan font-size="75" dy="-7.2">(</tspan><tspan dy="7.2">m</tspan><tspan font-size="75" dy="-7.2">)</tspan></text>
</g>
<g id="panel3">
<path d="M379.67 1476.00V2119.00M463.33 1476.00V2119.00M547.00 1476.00V2119.00M630.67 1476.00V2119.00M714.33 1476.00V2119.00M798.00 1476.00V2119.00M881.67 1476.00V2119.00M965.33 1476.00V2119.00M1049.00 1476.00V2119.00M1132.67 1476.00V2119.00M1216.33 1476.00V2119.00M1300.00 1476.00V2119.00M1383.67 1476.00V2119.00M1467.33 1476.00V2119.00M1551.00 1476.00V2119.00M1634.67 1476.00V2119.00M1718.33 1476.00V2119.00M1802.00 1476.00V2119.00M1885.67 1476.00V2119.00M1969.33 1476.00V2119.00M2053.00 1476.00V2119.00M2136.67 1476.00V2119.00M2220.33 1476.00V2119.00" stroke="#262626" stroke-opacity="0.15" stroke-width="8" fill="none"/>
<path d="M296.00 1540.30H2304.00M296.00 1604.60H2304.00M296.00 1668.90H2304.00M296.00 1733.20H2304.00M296.00 1797.50H2304.00M296.00 1861.80H2304.00M296.00 1926.10H2304.00M296.00 1990.40H2304.00M296.00 2054.70H2304.00" stroke="#262626" stroke-opacity="0.15" stroke-width="8" fill="none"/>
<path d="M379.67 1476.00v24M379.67 2119.00v-24M463.33 1476.00v24M463.33 2119.00v-24M547.00 1476.00v24M547.00 2119.00v-24M630.67 1476.00v24M630.67 2119.00v-24M714.33 1476.00v24M714.33 2119.00v-24M798.00 1476.00v24M798.00 2119.00v-24M881.67 1476.00v24M881.67 2119.00v-24M965.33 1476.00v24M965.33 2119.00v-24M1049.00 1476.00v24M1049.00 2119.00v-24M1132.67 1476.00v24M1132.67 2119.00v-24M1216.33 1476.00v24M1216.33 2119.00v-24M1300.00 1476.00v24M1300.00 2119.00v-24M1383.67 1476.00v24M1383.67 2119.00v-24M1467.33 1476.00v24M1467.33 2119.00v-24M1551.00 1476.00v24M1551.00 2119.00v-24M1634.67 1476.00v24M1634.67 2119.00v-24M1718.33 1476.00v24M1718.33 2119.00v-24M1802.00 1476.00v24M1802.00 2119.00v-24M1885.67 1476.00v24M1885.67 2119.00v-24M1969.33 1476.00v24M1969.33 2119.00v-24M2053.00 1476.00v24M2053.00 2119.00v-24M2136.67 1476.00v24M2136.67 2119.00v-24M2220.33 1476.00v24M2220.33 2119.00v-24M296.00 1540.30h24M2304.00 1540.30h-24M296.00 1604.60h24M2304.00 1604.60h-24M296.00 1668.90h24M2304.00 1668.90h-24M296.00 1733.20h24M2304.00 1733.20h-24M296.00 1797.50h24M2304.00 1797.50h-24M296.00 1861.80h24M2304.00 1861.80h-24M296.00 1926.10h24M2304.00 1926.10h-24M296.00 1990.40h24M2304.00 1990.40h-24M296.00 2054.70h24M2304.00 2054.70h-24" stroke="#262626" stroke-width="8" fill="none"/>
<path d="M296.0 2119.0V1476.0H2304.0V2119.0H296.0" fill="none" stroke="#262626" stroke-width="8" stroke-linejoin="miter"/>
<clipPath id="clip2"><rect x="282.0" y="1476.0" width="2036.0" height="643.0"/></clipPath>
<g clip-path="url(#clip2)" shape-rendering="crispEdges">
<path d="M309.1 1590.5L309.5 1590.0L309.5 1562.5L316.5 1562.5L318.9 1570.1L322.0 1573.4L324.7 1574.9L330.0 1575.1L331.9 1574.8L338.3 1570.4L339.9 1569.8L345.3 1630.4L348.6 1639.1L349.4 1651.7L351.8 1672.0L353.6 1674.5L361.2 1681.7L364.8 1688.4L374.7 1700.4L384.6 1720.3L404.6 1770.4L417.7 1797.4L419.5 1799.5L420.7 1800.2L423.5 1800.7L468.3 1797.8L500.0 1794.7L546.8 1794.7L597.2 1814.2L605.1 1813.5L610.0 1810.1L614.6 1808.2L637.7 1809.4L714.5 1820.1L777.1 1812.5L780.5 1811.7L789.4 1812.5L791.1 1818.8L795.5 1829.2L796.8 1835.5L798.1 1838.2L800.4 1840.9L802.9 1842.6L811.3 1843.5L816.5 1851.7L820.3 1855.0L823.2 1856.4L828.1 1856.2L830.9 1855.2L834.9 1850.9L835.8 1849.3L837.7 1835.4L839.9 1831.0L843.0 1826.1L844.5 1817.9L848.9 1823.6L853.2 1827.2L856.4 1827.8L863.2 1827.3L871.1 1829.3L880.4 1831.0L891.3 1828.8L901.2 1828.5L902.8 1827.8L904.2 1826.5L908.5 1821.1L920.6 1822.6L925.3 1825.7L926.9 1826.5L928.6 1826.8L936.6 1826.7L945.7 1825.5L952.0 1821.8L959.1 1821.6L961.8 1820.8L966.0 1816.8L967.8 1811.6L975.1 1807.9L984.3 1807.1L991.0 1808.2L1001.4 1808.6L1008.2 1810.0L1010.2 1810.0L1017.0 1809.1L1024.5 1810.9L1032.5 1813.5L1040.1 1811.8L1049.6 1807.9L1055.8 1810.0L1064.8 1809.7L1074.2 1807.9L1083.9 1804.7L1094.5 1804.7L1101.6 1805.4L1111.9 1803.9L1130.2 1804.0L1183.2 1810.3L1243.3 1807.8L1247.7 1811.0L1250.5 1812.1L1266.7 1810.3L1308.5 1810.3L1385.5 1817.6L1394.0 1817.6L1406.4 1826.9L1409.6 1831.6L1416.2 1850.3L1421.7 1871.3L1440.2 1889.1L1441.8 1890.2L1443.6 1890.7L1478.2 1894.6L1524.9 1888.5L1561.3 1873.8L1568.6 1874.2L1588.8 1878.0L1610.4 1879.0L1612.5 1878.7L1619.8 1876.3L1630.0 1880.0L1637.5 1884.1L1639.5 1884.8L1651.0 1886.7L1661.9 1890.6L1670.0 1892.0L1678.3 1889.5L1686.8 1893.7L1693.9 1896.3L1704.6 1894.7L1707.8 1899.7L1713.7 1903.0L1716.4 1903.6L1725.1 1901.6L1733.1 1900.9L1735.7 1900.1L1742.3 1895.8L1748.7 1883.5L1753.2 1879.1L1760.7 1880.1L1764.0 1879.6L1770.2 1876.4L1774.4 1869.6L1777.9 1868.6L1783.7 1871.2L1788.5 1875.8L1792.9 1877.6L1795.6 1877.9L1803.8 1875.4L1812.1 1870.5L1819.8 1870.8L1826.2 1868.0L1830.9 1861.6L1833.4 1849.3L1837.2 1843.2L1840.1 1839.9L1840.7 1838.1L1845.0 1813.8L1865.3 1812.4L1867.5 1811.8L1876.4 1807.7L1880.7 1810.8L1882.8 1811.8L1896.9 1815.3L1942.3 1821.4L1945.3 1821.1L1946.6 1820.4L1948.5 1818.2L1949.0 1816.8L1949.1 1815.3L1948.3 1812.5L1944.9 1806.5L1943.6 1804.9L1936.4 1799.0L1928.3 1796.5L1875.3 1786.7L1872.9 1786.7L1846.0 1792.4L1843.1 1793.9L1804.0 1831.5L1769.7 1840.8L1767.2 1842.2L1763.6 1845.5L1757.5 1848.6L1746.7 1850.3L1740.3 1854.8L1734.1 1858.2L1730.7 1862.9L1726.2 1868.0L1718.9 1868.0L1710.9 1865.6L1702.5 1863.9L1693.9 1864.1L1613.7 1853.9L1567.6 1849.8L1551.1 1839.4L1547.6 1830.7L1546.7 1829.2L1545.5 1828.0L1539.0 1823.7L1537.3 1823.4L1535.5 1823.6L1531.7 1824.9L1530.5 1825.8L1525.0 1831.3L1516.9 1841.5L1506.6 1846.6L1499.5 1848.4L1497.1 1849.7L1489.2 1856.9L1481.2 1868.8L1475.2 1874.8L1463.1 1870.7L1421.4 1829.1L1413.0 1797.9L1410.6 1795.6L1408.9 1795.1L1407.0 1795.1L1405.4 1784.3L1404.8 1782.5L1403.7 1780.9L1401.2 1778.7L1398.1 1778.0L1391.4 1778.3L1388.6 1779.1L1383.5 1782.3L1379.3 1788.4L1367.1 1789.4L1358.6 1786.9L1337.8 1791.5L1326.6 1792.2L1316.8 1794.6L1298.3 1788.5L1288.0 1783.3L1279.8 1780.2L1273.8 1779.2L1272.4 1779.2L1269.8 1780.0L1266.2 1782.2L1245.7 1792.4L1232.6 1777.5L1231.6 1776.5L1229.1 1775.4L1224.7 1774.9L1191.3 1779.9L1184.8 1773.4L1183.5 1772.4L1180.5 1771.6L1129.7 1771.7L995.4 1788.2L917.9 1788.2L862.1 1780.5L860.5 1776.1L855.2 1769.9L852.9 1768.3L845.5 1765.1L842.2 1765.4L840.8 1766.3L838.8 1768.9L836.7 1774.4L823.8 1785.1L796.3 1783.2L791.9 1782.0L780.6 1782.0L776.2 1779.8L773.7 1779.1L766.5 1780.4L757.4 1780.4L752.7 1777.5L737.1 1774.8L735.4 1774.8L731.2 1776.3L730.8 1774.2L729.1 1771.8L726.6 1770.5L725.2 1770.3L683.8 1770.4L622.1 1778.9L562.9 1775.7L558.3 1772.7L552.6 1768.3L544.9 1765.1L542.7 1764.6L530.6 1764.2L528.6 1764.5L521.7 1766.7L510.7 1767.2L505.9 1769.8L492.3 1769.8L484.0 1771.1L477.4 1775.5L476.1 1776.8L474.2 1781.3L469.2 1785.4L464.1 1781.4L459.2 1776.4L452.9 1771.1L445.0 1768.6L440.2 1766.4L433.3 1766.2L431.1 1766.6L424.8 1769.2L419.8 1772.3L417.1 1764.4L415.2 1756.0L410.8 1745.6L409.2 1733.0L406.1 1714.4L402.8 1699.8L398.5 1686.7L393.5 1679.6L391.2 1653.0L389.3 1638.9L385.1 1633.7L383.7 1632.5L382.1 1631.8L377.3 1630.8L370.8 1632.8L369.8 1623.2L366.1 1616.8L365.3 1594.8L362.9 1569.9L359.9 1527.2L359.2 1524.7L355.7 1518.7L349.6 1513.9L348.3 1507.1L347.7 1505.4L346.6 1503.9L341.9 1499.4L339.3 1498.5L335.5 1498.0L334.8 1489.9L334.4 1488.2L333.6 1486.7L328.8 1481.0L323.7 1479.2L323.7 1469.5L322.9 1466.5L321.9 1465.3L320.7 1464.3L317.7 1463.5L291.0 1463.7L288.4 1465.3L287.4 1466.5L286.6 1469.5L286.6 1590.0L287.1 1590.5ZM1977.0 1818.0L1974.9 1820.2L1974.4 1821.7L1974.5 1824.8L1976.1 1827.4L2004.7 1843.4L2006.5 1844.0L2008.5 1844.1L2025.1 1841.6L2031.1 1845.0L2038.0 1850.8L2042.2 1852.9L2045.4 1853.5L2052.4 1853.0L2059.8 1850.3L2062.2 1848.5L2064.3 1845.9L2084.1 1842.8L2146.1 1839.7L2155.9 1838.3L2158.6 1837.2L2166.7 1831.1L2174.2 1829.6L2179.7 1833.5L2183.1 1833.7L2188.9 1832.4L2192.1 1830.9L2197.2 1829.2L2200.1 1826.8L2201.4 1823.8L2200.9 1820.5L2200.0 1819.1L2192.3 1813.9L2190.8 1809.2L2189.8 1808.0L2188.5 1807.0L2185.3 1806.3L1979.9 1817.0ZM2215.5 1835.4L2214.1 1834.9L2211.1 1835.1L2208.6 1836.8L2207.2 1839.4L2207.9 1874.0L2210.0 1880.6L2213.6 1885.6L2216.7 1887.0L2223.4 1888.0L2239.6 1889.2L2245.7 1888.9L2248.1 1887.6L2251.4 1884.2L2253.5 1880.5L2258.0 1877.1L2260.3 1872.1L2265.1 1869.2L2269.3 1866.1L2273.8 1861.7L2279.0 1860.0L2280.9 1859.0L2285.3 1855.5L2288.2 1854.5L2293.3 1855.4L2298.7 1854.8L2308.6 1848.1L2311.3 1844.9L2312.4 1842.0L2312.0 1838.8L2311.1 1837.4L2308.5 1835.5L2305.3 1835.3L2300.7 1836.2L2296.0 1834.5L2289.4 1833.6L2283.3 1830.4L2280.2 1830.4L2277.5 1832.0L2254.5 1855.5L2223.6 1845.2L2217.9 1837.3Z" fill="#0072BD" fill-rule="evenodd" stroke="none"/>
<path d="M286.1 1695.0L286.1 1898.0L286.5 1898.5L308.0 1898.5L308.5 1898.1L308.5 1767.1L308.9 1767.5L311.0 1767.9L315.1 1779.1L317.9 1784.3L319.0 1785.8L320.5 1786.8L324.7 1788.6L327.9 1788.3L332.9 1786.0L339.0 1780.7L351.8 1788.3L360.0 1793.7L373.8 1794.7L375.6 1799.8L376.9 1801.2L382.6 1805.1L387.9 1807.2L390.6 1813.0L393.3 1815.0L394.9 1815.3L421.9 1816.6L460.5 1810.4L469.2 1812.7L474.8 1812.8L499.6 1815.1L530.5 1819.7L551.5 1818.3L557.1 1821.6L560.3 1822.5L567.4 1820.6L575.9 1820.2L584.0 1818.8L585.9 1818.2L591.2 1815.3L598.1 1813.7L606.7 1809.4L617.4 1807.8L625.7 1810.3L627.7 1810.6L637.5 1810.2L641.7 1812.3L643.6 1819.9L647.0 1824.2L648.4 1825.4L650.1 1826.1L654.7 1827.0L659.3 1825.6L661.5 1824.1L665.6 1817.6L668.6 1821.5L670.2 1822.4L674.9 1823.9L682.8 1822.4L690.6 1816.4L699.6 1817.1L715.7 1822.2L723.3 1823.0L733.2 1823.0L741.6 1821.1L746.2 1824.0L752.6 1824.7L762.0 1821.0L771.3 1818.5L777.6 1814.0L783.7 1811.7L791.3 1811.7L804.4 1814.6L806.3 1814.7L815.6 1813.3L821.6 1810.5L826.3 1807.2L831.6 1810.8L846.4 1813.6L867.8 1811.7L871.0 1814.1L877.2 1817.7L887.1 1818.3L896.0 1817.3L898.9 1816.2L903.9 1812.2L908.6 1804.0L913.4 1805.2L915.6 1805.4L920.7 1804.7L926.2 1806.8L933.0 1807.8L939.3 1811.5L943.8 1811.7L945.7 1811.4L947.4 1810.5L952.0 1807.0L959.2 1806.2L961.8 1805.2L967.5 1799.3L974.5 1800.3L980.0 1800.1L981.4 1799.9L985.2 1797.8L989.0 1800.3L990.5 1801.1L992.3 1801.3L1001.8 1801.3L1023.2 1799.3L1032.2 1800.0L1040.2 1799.8L1041.9 1799.5L1043.5 1798.6L1047.3 1795.8L1052.6 1799.1L1059.5 1800.0L1061.5 1799.8L1079.8 1795.8L1083.7 1798.0L1093.0 1799.3L1100.1 1802.8L1105.4 1804.3L1107.1 1804.5L1111.7 1803.2L1117.6 1805.8L1124.1 1809.5L1130.2 1809.9L1151.4 1813.3L1161.7 1810.4L1168.0 1816.3L1178.2 1818.6L1181.2 1826.1L1183.2 1827.9L1188.4 1830.7L1191.2 1830.8L1199.4 1829.2L1211.4 1836.5L1214.2 1836.8L1222.5 1835.4L1229.1 1838.6L1236.0 1840.9L1238.3 1841.2L1245.5 1840.6L1254.0 1842.6L1261.0 1841.0L1263.8 1839.4L1267.9 1835.1L1271.2 1826.8L1274.0 1822.9L1281.2 1824.7L1289.4 1822.5L1292.5 1825.9L1294.7 1827.5L1299.1 1829.2L1305.0 1830.1L1308.2 1834.0L1309.9 1834.9L1316.7 1836.9L1327.3 1835.0L1340.0 1835.4L1352.3 1835.0L1380.5 1843.4L1382.8 1843.7L1402.6 1841.7L1410.3 1842.4L1419.1 1842.3L1439.8 1840.3L1462.0 1843.3L1471.1 1842.4L1490.0 1846.3L1498.3 1843.5L1504.7 1840.3L1513.1 1841.2L1519.6 1838.9L1522.0 1837.2L1526.0 1829.6L1532.1 1824.5L1538.2 1822.5L1550.4 1822.5L1567.4 1829.7L1609.4 1829.8L1688.6 1837.1L1695.9 1839.6L1698.1 1839.9L1707.9 1839.5L1714.1 1841.8L1722.0 1840.3L1731.3 1840.8L1736.0 1838.7L1745.1 1837.9L1752.4 1840.8L1758.3 1842.1L1768.7 1842.1L1831.4 1838.7L1841.8 1839.9L1853.8 1839.9L1861.7 1842.8L1875.7 1840.3L1904.8 1843.6L1915.8 1844.1L1927.7 1843.7L1936.2 1841.1L1948.2 1847.1L1950.8 1853.5L1952.3 1855.7L1957.3 1860.1L1958.5 1860.6L1962.3 1861.1L1964.2 1860.9L1966.0 1860.2L1968.8 1858.4L1970.8 1856.2L1973.1 1847.9L1973.9 1842.7L1986.8 1844.9L1989.1 1844.9L1995.7 1843.6L2006.2 1845.1L2014.3 1845.5L2017.5 1844.8L2023.7 1841.3L2030.5 1844.5L2036.1 1845.3L2043.8 1842.1L2047.2 1844.7L2049.7 1845.8L2056.3 1847.0L2062.4 1845.9L2068.6 1849.1L2074.9 1848.8L2078.1 1847.6L2081.3 1845.1L2091.9 1844.1L2102.0 1844.0L2103.8 1843.7L2113.8 1840.5L2124.1 1839.4L2132.3 1836.9L2140.6 1840.8L2142.5 1841.3L2149.5 1841.9L2156.5 1839.3L2166.6 1832.0L2173.0 1826.4L2179.0 1824.5L2192.1 1823.6L2200.0 1823.6L2202.6 1825.9L2207.7 1829.2L2211.9 1838.9L2214.4 1840.8L2220.8 1841.7L2223.8 1841.2L2226.2 1839.3L2227.4 1836.5L2227.4 1834.9L2226.2 1832.1L2209.3 1810.4L2206.4 1809.2L2194.4 1807.7L2192.7 1807.7L2189.5 1809.2L2130.4 1809.5L2115.5 1811.5L2103.1 1814.1L2100.8 1810.8L2099.6 1809.9L2096.7 1809.2L2020.3 1809.2L2017.6 1809.8L2013.1 1812.1L2008.0 1816.2L1999.6 1816.4L1992.6 1818.2L1983.6 1814.7L1980.1 1813.0L1977.3 1812.3L1974.5 1813.1L1973.4 1813.9L1970.7 1817.5L1953.5 1819.0L1949.9 1815.7L1945.5 1812.9L1942.6 1812.0L1933.0 1811.7L1926.8 1814.1L1918.7 1815.3L1911.3 1817.2L1905.4 1816.8L1899.2 1815.7L1894.4 1812.3L1887.7 1811.4L1885.3 1811.6L1878.8 1813.6L1872.6 1811.8L1858.5 1814.1L1850.9 1813.6L1845.6 1812.2L1842.6 1812.9L1841.4 1813.8L1839.6 1816.0L1804.3 1823.7L1763.9 1828.4L1753.2 1826.8L1747.2 1822.3L1744.3 1817.6L1741.9 1816.1L1737.0 1814.5L1734.9 1814.1L1728.2 1814.4L1696.6 1801.5L1694.9 1801.0L1693.1 1801.2L1688.7 1803.3L1676.6 1803.3L1670.1 1800.4L1667.2 1799.9L1661.7 1801.6L1651.2 1805.7L1642.9 1807.8L1640.0 1805.6L1637.4 1804.5L1629.6 1803.3L1620.2 1803.7L1587.5 1809.9L1579.6 1803.4L1567.5 1797.4L1552.8 1791.1L1544.6 1790.1L1538.3 1787.0L1535.3 1786.4L1531.2 1787.5L1528.4 1789.5L1524.8 1794.2L1521.0 1802.8L1512.9 1809.9L1506.6 1814.2L1497.9 1815.3L1490.0 1817.3L1483.6 1814.5L1481.0 1814.1L1472.4 1816.2L1468.3 1812.7L1462.4 1810.2L1459.0 1809.8L1452.5 1811.0L1446.4 1806.9L1443.5 1806.6L1439.1 1808.2L1412.9 1824.4L1410.5 1817.4L1408.1 1815.3L1406.6 1814.8L1394.6 1815.5L1385.9 1817.6L1369.4 1811.5L1361.8 1807.7L1359.8 1807.1L1351.4 1806.3L1341.9 1808.2L1333.7 1806.2L1325.3 1801.1L1317.0 1799.9L1310.5 1792.8L1309.2 1776.5L1308.1 1773.4L1305.7 1771.4L1295.5 1769.8L1293.7 1769.8L1292.0 1770.3L1289.7 1772.2L1288.6 1774.7L1287.0 1783.2L1278.5 1785.4L1272.1 1788.3L1270.4 1790.3L1266.0 1798.0L1260.1 1802.0L1252.9 1802.0L1250.1 1802.6L1242.5 1809.1L1237.4 1803.2L1230.7 1800.0L1228.9 1799.5L1227.0 1799.6L1220.4 1800.8L1210.2 1796.8L1190.9 1785.1L1180.8 1781.0L1165.0 1775.5L1161.8 1776.0L1155.3 1781.0L1145.3 1780.0L1131.3 1772.2L1128.9 1771.5L1076.5 1767.3L1003.1 1772.3L994.8 1771.1L976.7 1771.1L964.3 1765.9L955.0 1766.8L948.7 1764.7L944.2 1765.0L941.2 1766.1L939.0 1768.8L925.7 1769.7L922.9 1771.7L921.9 1773.5L907.3 1774.9L901.1 1776.8L894.0 1781.1L892.6 1782.3L890.9 1785.9L882.0 1785.9L875.3 1782.6L868.5 1780.9L856.7 1779.8L854.3 1780.0L844.2 1783.2L838.7 1780.9L835.9 1781.0L816.2 1786.6L796.6 1783.3L784.9 1783.2L776.7 1784.0L765.9 1787.1L763.8 1788.3L754.0 1795.6L740.9 1793.2L730.7 1794.1L720.0 1794.4L698.0 1786.4L695.3 1786.0L687.0 1786.7L677.8 1788.2L671.0 1789.8L668.6 1792.1L665.4 1797.3L652.7 1788.0L623.6 1776.3L620.7 1775.9L590.1 1779.2L546.8 1796.8L515.7 1793.7L495.1 1789.9L483.8 1792.9L476.1 1794.5L470.1 1793.7L465.4 1790.7L457.5 1789.8L449.6 1785.8L441.8 1786.6L437.0 1784.2L433.8 1783.6L425.9 1784.4L416.4 1789.8L410.4 1791.3L400.2 1784.6L384.8 1773.5L383.1 1769.5L381.0 1767.6L378.3 1766.9L366.3 1766.6L361.9 1764.0L355.6 1757.0L347.8 1753.0L342.9 1748.5L341.1 1747.9L332.1 1746.6L326.4 1738.9L325.1 1737.6L320.0 1734.1L316.7 1733.8L311.4 1734.8L308.9 1734.5L308.5 1734.9L308.4 1694.8L308.0 1694.5L286.6 1694.5ZM2237.3 1839.0L2236.7 1840.5L2236.6 1843.7L2238.3 1846.5L2249.0 1856.3L2250.5 1856.9L2253.5 1856.9L2254.9 1856.3L2257.0 1854.2L2259.4 1850.2L2261.3 1846.0L2265.5 1843.8L2270.6 1840.6L2278.0 1830.3L2296.9 1825.0L2310.7 1819.5L2311.8 1818.4L2313.1 1815.6L2312.8 1811.9L2312.2 1810.0L2309.2 1804.2L2306.7 1802.5L2303.8 1802.2L2295.5 1803.7L2255.2 1823.8L2253.7 1824.9L2243.9 1834.7L2239.7 1836.8Z" fill="#D95319" fill-rule="evenodd" stroke="none"/>
<path d="M310.3 1996.7L310.3 1825.0L311.9 1734.8L316.8 1732.9L319.1 1731.3L320.4 1728.8L322.0 1722.4L327.8 1721.1L329.8 1720.3L333.6 1717.5L336.9 1712.2L342.5 1710.1L345.0 1716.5L348.2 1721.6L354.1 1727.0L355.3 1732.9L355.9 1734.6L356.9 1736.0L359.6 1738.7L362.3 1740.3L371.4 1740.5L376.7 1756.1L383.1 1767.7L386.3 1781.9L389.3 1809.2L394.2 1821.2L398.6 1835.9L403.2 1844.1L408.9 1850.0L411.7 1851.6L418.1 1852.9L424.7 1850.9L427.4 1849.1L431.0 1844.6L433.5 1834.6L438.5 1831.7L450.1 1841.1L451.8 1842.1L463.6 1846.4L477.1 1845.8L485.6 1843.1L486.8 1842.6L488.7 1840.8L492.3 1835.1L493.9 1826.0L499.9 1824.3L506.2 1818.0L515.5 1820.2L524.6 1823.7L531.1 1829.3L536.8 1833.1L539.4 1833.5L544.7 1833.0L547.1 1831.5L550.2 1828.1L552.0 1819.6L565.7 1812.8L571.5 1814.9L576.4 1816.2L584.0 1816.7L587.1 1816.0L591.1 1812.6L597.5 1804.7L601.6 1800.6L602.8 1799.0L607.0 1790.6L614.6 1784.5L622.3 1781.9L628.3 1775.5L632.8 1780.4L641.0 1782.9L641.8 1797.6L643.6 1805.9L647.8 1810.9L650.6 1812.0L654.1 1812.3L656.6 1811.4L661.1 1808.3L666.1 1798.1L670.6 1790.7L678.7 1789.0L686.0 1785.8L690.5 1780.2L693.9 1772.9L701.0 1772.2L703.1 1776.4L704.3 1778.0L705.8 1779.1L712.6 1782.3L721.5 1784.3L723.3 1783.8L729.4 1781.1L732.7 1776.6L737.6 1773.3L743.4 1768.3L751.5 1770.3L753.5 1770.5L761.3 1769.8L769.8 1767.3L776.0 1762.0L784.8 1762.5L791.0 1762.1L794.0 1768.6L795.8 1785.7L800.5 1792.0L806.5 1794.7L809.1 1795.1L815.4 1793.3L819.4 1790.8L824.9 1791.9L827.8 1791.7L834.3 1787.8L835.8 1784.8L837.7 1774.9L839.9 1768.9L844.6 1759.5L847.4 1756.7L855.4 1761.0L867.7 1761.3L872.0 1765.5L877.1 1769.4L878.7 1770.3L880.5 1770.6L888.9 1770.7L897.6 1768.7L902.1 1764.6L905.5 1759.7L909.6 1759.7L914.7 1765.4L920.6 1769.6L930.1 1771.6L936.3 1769.6L938.0 1768.7L942.8 1761.9L952.1 1756.4L956.8 1750.3L961.9 1747.7L963.7 1746.3L969.0 1740.4L972.2 1742.6L974.8 1743.5L979.8 1744.0L984.2 1742.7L987.4 1749.0L991.5 1754.2L994.1 1755.4L999.8 1756.6L1013.6 1765.0L1019.7 1771.9L1024.5 1779.6L1029.1 1782.7L1031.6 1783.6L1037.1 1783.2L1038.8 1782.7L1040.4 1781.7L1044.5 1778.0L1047.0 1771.9L1049.8 1769.1L1054.7 1770.6L1056.9 1770.8L1065.5 1770.2L1075.8 1768.3L1077.5 1770.9L1079.7 1772.9L1087.7 1775.0L1092.8 1775.2L1094.8 1779.2L1096.8 1781.5L1103.2 1783.8L1106.2 1783.2L1111.9 1780.3L1115.0 1775.4L1120.6 1778.9L1122.3 1787.3L1126.2 1792.1L1129.1 1794.2L1133.8 1795.2L1137.0 1794.0L1142.1 1790.2L1144.1 1787.6L1145.5 1784.1L1154.8 1783.9L1157.6 1782.0L1162.1 1776.4L1164.0 1768.4L1165.6 1775.6L1167.7 1778.0L1170.7 1780.0L1172.3 1780.7L1174.0 1781.0L1180.6 1781.0L1186.2 1783.8L1190.4 1784.8L1193.3 1784.1L1199.7 1780.6L1210.0 1779.9L1216.2 1780.7L1219.1 1780.3L1225.3 1775.9L1226.6 1773.1L1227.1 1769.9L1230.6 1772.5L1235.7 1778.6L1239.1 1789.5L1243.2 1797.4L1250.7 1802.8L1259.6 1803.8L1262.2 1802.8L1266.7 1799.5L1270.6 1792.2L1271.3 1789.8L1272.2 1772.8L1279.1 1774.8L1287.7 1772.6L1293.6 1772.6L1298.0 1774.1L1300.7 1774.3L1308.6 1771.4L1312.8 1767.4L1321.8 1766.0L1331.5 1762.1L1336.9 1762.1L1339.7 1761.5L1341.8 1759.6L1344.7 1755.6L1345.7 1753.3L1346.5 1749.4L1360.3 1743.5L1368.8 1737.2L1370.0 1734.8L1372.6 1724.6L1377.7 1726.0L1379.6 1726.3L1381.4 1725.9L1388.1 1723.2L1390.7 1720.8L1393.7 1736.7L1397.8 1765.5L1402.1 1780.7L1405.2 1797.2L1407.4 1812.2L1411.9 1829.0L1418.4 1842.2L1420.4 1852.4L1421.7 1875.5L1426.4 1883.3L1435.1 1891.3L1437.4 1898.6L1442.2 1904.0L1444.5 1905.5L1454.0 1906.8L1455.0 1917.4L1455.6 1940.6L1455.9 1942.4L1456.7 1944.0L1460.6 1948.8L1464.7 1950.5L1467.8 1950.7L1472.7 1948.4L1474.2 1947.3L1482.9 1938.3L1485.3 1925.8L1492.4 1915.6L1500.8 1907.1L1509.0 1901.4L1517.3 1901.9L1525.7 1898.9L1533.9 1897.9L1540.2 1899.4L1543.0 1899.5L1548.8 1896.6L1554.5 1890.0L1559.4 1881.8L1560.6 1869.3L1565.6 1864.3L1568.0 1863.5L1568.6 1892.1L1569.8 2019.7L1570.6 2039.1L1571.0 2041.1L1573.7 2047.8L1574.4 2053.1L1575.0 2055.1L1578.4 2061.9L1580.1 2068.1L1585.0 2073.5L1589.5 2074.9L1591.3 2075.1L1593.1 2074.7L1597.7 2072.7L1600.8 2068.8L1601.6 2067.2L1601.9 2065.4L1602.4 2039.9L1603.5 2029.1L1604.8 2026.1L1605.0 2024.7L1605.5 1939.2L1607.0 1933.5L1607.6 1894.4L1610.9 1891.6L1611.8 1890.0L1612.1 1888.3L1613.0 1871.2L1613.8 1862.3L1614.3 1861.1L1622.3 1859.0L1630.4 1856.0L1640.8 1853.7L1647.3 1848.6L1657.6 1842.8L1672.5 1840.2L1686.6 1836.2L1703.3 1829.4L1711.0 1827.1L1722.0 1825.7L1727.0 1821.8L1728.1 1819.0L1728.6 1815.4L1735.7 1815.1L1743.3 1817.7L1746.5 1822.9L1752.9 1827.5L1761.9 1828.1L1764.4 1835.0L1768.3 1841.5L1775.4 1846.0L1783.7 1848.7L1787.3 1854.6L1791.7 1858.6L1796.2 1859.8L1798.0 1859.9L1799.8 1859.4L1803.7 1857.4L1804.8 1856.3L1807.7 1849.4L1810.5 1847.3L1814.8 1848.7L1816.6 1849.0L1818.5 1848.7L1823.0 1847.1L1829.3 1841.5L1831.8 1833.8L1834.2 1824.5L1839.7 1817.5L1840.7 1815.7L1843.3 1807.9L1845.1 1790.4L1852.4 1787.8L1855.9 1789.0L1858.1 1789.3L1868.7 1788.5L1871.4 1786.6L1874.9 1782.3L1881.4 1789.6L1884.2 1795.1L1888.3 1800.2L1890.8 1801.9L1895.8 1803.5L1897.8 1803.2L1903.8 1801.3L1908.4 1797.6L1916.0 1799.7L1922.5 1798.3L1930.1 1797.3L1936.0 1792.5L1939.0 1799.6L1946.7 1807.5L1951.5 1815.1L1956.1 1818.2L1958.6 1819.1L1965.8 1818.4L1971.4 1815.3L1991.1 1807.1L2034.3 1811.0L2040.6 1817.7L2042.3 1818.3L2048.5 1819.6L2051.6 1818.8L2053.3 1817.9L2058.2 1811.7L2068.8 1807.1L2187.7 1807.1L2189.3 1806.9L2192.1 1805.2L2193.0 1803.8L2193.6 1800.6L2190.9 1793.2L2188.8 1791.3L2186.0 1790.6L2084.3 1790.5L1971.0 1745.5L1965.6 1745.9L1962.7 1747.1L1957.7 1751.1L1955.6 1755.9L1954.0 1751.8L1951.4 1748.2L1949.2 1746.3L1943.6 1743.6L1936.3 1741.6L1933.0 1741.6L1928.3 1743.2L1918.8 1752.4L1912.5 1755.2L1908.1 1758.2L1899.1 1758.2L1894.6 1754.8L1889.3 1748.9L1885.3 1746.2L1880.5 1740.8L1876.1 1738.5L1873.4 1737.9L1869.0 1738.8L1866.6 1740.0L1862.5 1743.6L1858.3 1748.9L1851.5 1749.1L1846.0 1751.0L1841.3 1755.4L1834.8 1762.7L1829.6 1767.2L1828.1 1769.1L1824.6 1776.7L1822.3 1787.2L1820.8 1800.7L1815.0 1805.0L1804.6 1802.1L1795.1 1800.1L1788.7 1797.9L1782.1 1798.8L1780.8 1787.5L1779.7 1784.7L1777.8 1782.0L1775.8 1780.2L1770.1 1778.6L1764.3 1780.2L1762.4 1782.0L1760.5 1784.6L1753.1 1784.9L1747.9 1782.3L1745.8 1781.7L1740.1 1781.1L1737.8 1781.4L1731.2 1783.3L1720.9 1783.1L1715.8 1783.8L1714.1 1784.4L1712.6 1785.5L1709.3 1788.8L1702.7 1789.5L1697.6 1791.6L1695.1 1793.9L1693.4 1799.1L1678.3 1804.7L1663.1 1807.0L1640.9 1814.1L1636.7 1809.2L1627.8 1805.7L1617.7 1803.8L1610.2 1805.6L1609.9 1796.8L1609.4 1794.7L1606.7 1789.0L1604.6 1787.2L1600.8 1785.3L1598.2 1784.7L1596.8 1784.9L1592.5 1786.2L1588.1 1791.0L1587.4 1793.6L1586.9 1809.4L1580.9 1803.8L1580.5 1693.3L1579.5 1652.9L1578.6 1649.9L1574.9 1644.5L1570.6 1642.4L1567.8 1641.9L1563.8 1643.0L1562.1 1643.9L1557.6 1649.7L1556.8 1651.3L1556.4 1653.1L1553.3 1787.3L1551.2 1808.5L1550.2 1841.7L1546.2 1849.7L1534.6 1849.9L1532.1 1851.1L1528.8 1853.9L1527.2 1856.0L1525.2 1864.5L1517.3 1867.5L1510.8 1870.7L1502.6 1872.7L1496.3 1873.5L1493.5 1874.7L1489.5 1879.3L1477.8 1891.0L1475.8 1875.2L1474.9 1851.9L1474.5 1850.2L1473.7 1848.6L1471.8 1846.5L1470.5 1845.7L1463.1 1844.5L1458.9 1837.5L1453.1 1833.6L1450.2 1833.3L1444.9 1834.2L1440.2 1836.8L1439.3 1807.2L1438.9 1805.3L1437.1 1800.4L1435.4 1798.1L1432.9 1796.7L1427.7 1795.4L1426.6 1778.6L1423.5 1764.2L1419.3 1747.5L1410.5 1691.3L1406.6 1682.8L1405.3 1681.0L1398.5 1675.2L1391.7 1673.9L1388.3 1674.4L1381.5 1677.7L1377.2 1683.7L1369.0 1682.8L1361.2 1685.8L1359.3 1688.0L1356.1 1694.4L1350.0 1701.5L1342.8 1706.0L1339.4 1713.1L1333.5 1716.1L1327.0 1714.0L1325.1 1713.7L1323.3 1714.0L1316.9 1716.1L1310.6 1719.0L1309.9 1618.9L1309.7 1617.1L1308.9 1615.6L1306.5 1611.9L1304.2 1609.8L1299.8 1607.9L1298.1 1607.9L1295.0 1608.8L1292.4 1610.9L1288.3 1617.1L1288.0 1618.9L1286.9 1686.0L1280.2 1690.9L1276.4 1687.5L1272.4 1685.5L1270.7 1685.0L1269.0 1685.0L1264.4 1685.5L1261.7 1686.6L1256.8 1692.4L1253.4 1709.5L1250.5 1742.2L1246.0 1734.2L1241.6 1722.8L1234.8 1717.3L1233.1 1716.5L1224.8 1716.1L1219.6 1712.1L1212.8 1710.2L1210.0 1710.9L1205.9 1712.9L1201.8 1710.0L1194.8 1708.1L1191.7 1708.2L1186.4 1709.7L1182.1 1660.5L1179.2 1650.9L1176.6 1644.8L1175.6 1643.2L1174.2 1642.0L1170.7 1640.0L1170.3 1550.4L1169.1 1526.2L1168.5 1523.9L1166.3 1519.3L1164.6 1517.2L1159.9 1514.8L1156.9 1514.2L1153.3 1515.2L1150.8 1516.7L1147.9 1521.5L1147.1 1524.4L1145.7 1713.5L1141.7 1710.7L1140.1 1710.2L1137.2 1710.5L1135.5 1711.0L1134.0 1712.1L1132.9 1713.5L1129.3 1720.1L1128.3 1735.8L1125.4 1741.6L1113.3 1742.4L1101.2 1741.3L1099.9 1738.7L1098.9 1737.7L1091.6 1734.0L1082.3 1733.8L1070.8 1732.1L1068.9 1732.1L1059.1 1733.8L1049.6 1736.2L1041.3 1735.5L1039.3 1735.6L1031.3 1737.6L1028.4 1730.1L1026.5 1728.3L1021.8 1725.5L1011.1 1723.8L1007.9 1718.6L1001.8 1715.3L996.1 1709.6L988.8 1705.0L986.3 1704.2L969.7 1703.1L959.5 1705.5L957.9 1706.2L951.5 1713.0L946.4 1716.5L941.7 1721.3L940.1 1724.1L939.0 1728.5L925.4 1732.3L914.7 1730.0L907.9 1725.9L905.9 1725.1L899.0 1723.9L892.0 1726.1L890.7 1727.3L889.8 1728.8L887.5 1734.3L885.3 1726.4L881.0 1721.4L878.6 1720.3L872.8 1719.1L866.5 1714.7L860.6 1713.7L859.8 1709.4L855.7 1703.1L849.2 1699.8L847.3 1696.3L841.7 1689.5L839.3 1688.4L834.1 1687.4L831.0 1688.3L825.8 1691.8L824.4 1694.1L822.0 1701.5L817.5 1707.9L817.2 1709.7L816.5 1732.7L814.5 1736.3L810.4 1732.5L807.4 1725.5L805.3 1723.7L800.5 1721.3L797.8 1720.7L789.5 1720.7L781.6 1721.4L778.0 1714.6L775.6 1712.9L770.4 1711.0L768.9 1711.0L765.1 1712.2L762.8 1713.8L762.0 1714.9L759.2 1720.3L758.3 1732.3L755.8 1732.3L749.5 1727.6L742.9 1726.9L740.4 1727.3L736.8 1728.7L734.1 1730.7L725.8 1742.5L718.5 1745.4L714.1 1740.3L710.9 1734.9L705.2 1731.1L702.1 1730.9L694.8 1732.3L683.9 1733.0L683.0 1724.9L680.7 1720.6L678.5 1718.4L674.1 1716.1L671.2 1715.9L667.0 1717.0L662.2 1721.5L656.1 1724.0L651.1 1729.4L643.5 1736.6L635.8 1736.6L634.8 1730.5L631.6 1722.5L625.9 1718.2L623.0 1717.8L619.4 1718.1L618.0 1718.4L615.7 1719.9L611.8 1723.8L610.4 1726.1L607.6 1734.9L606.1 1747.3L601.7 1752.2L596.0 1753.6L593.5 1754.8L590.0 1759.3L588.8 1762.1L587.5 1772.0L578.7 1774.5L575.7 1772.6L572.2 1769.9L569.8 1768.7L564.1 1768.8L557.9 1772.4L554.6 1769.6L551.9 1768.3L545.3 1767.1L541.0 1768.1L538.4 1769.5L536.0 1772.7L533.9 1779.6L529.6 1780.3L520.5 1779.6L513.0 1779.6L507.4 1780.8L504.6 1782.4L494.8 1792.1L487.0 1793.5L484.2 1794.8L481.4 1797.1L480.0 1798.8L476.1 1806.0L474.3 1811.7L461.0 1809.5L459.9 1804.7L458.7 1802.2L452.8 1797.8L448.1 1797.0L446.4 1797.1L441.7 1799.1L436.1 1797.6L432.0 1797.6L429.3 1798.2L425.8 1800.2L420.9 1806.4L418.0 1808.4L415.2 1801.3L410.8 1794.0L407.7 1767.8L404.4 1754.6L401.0 1744.7L395.9 1735.9L392.7 1715.5L390.5 1687.0L390.0 1685.1L387.4 1679.4L385.2 1677.7L380.5 1675.6L375.5 1676.0L372.8 1677.0L369.3 1679.7L368.4 1681.2L366.8 1685.5L365.7 1690.7L364.8 1686.5L362.4 1681.9L357.1 1676.3L343.0 1672.2L337.2 1669.6L334.5 1669.6L330.6 1670.5L329.0 1661.9L325.7 1652.9L321.4 1649.1L317.4 1646.5L317.4 1538.6L315.9 1501.3L315.0 1498.5L311.6 1495.0L303.5 1492.7L298.1 1494.1L296.5 1494.8L295.2 1496.0L294.0 1498.1L293.6 1500.2L292.1 1538.4L290.5 1679.6L288.1 1695.9L286.6 1930.9L287.3 1994.6L287.7 1994.9L310.0 1997.2ZM2206.1 1817.6L2207.4 1821.7L2208.1 1866.0L2209.4 1872.5L2210.8 1875.3L2214.4 1879.3L2215.9 1886.3L2219.3 1892.6L2223.8 1896.7L2227.4 1898.2L2228.9 1898.4L2233.8 1898.0L2237.1 1896.0L2239.0 1893.8L2240.6 1889.6L2241.5 1879.4L2247.2 1877.0L2250.6 1874.0L2251.5 1872.3L2252.6 1868.2L2253.6 1859.3L2258.8 1849.8L2259.5 1847.9L2260.8 1840.8L2266.0 1839.5L2271.0 1836.8L2272.6 1834.4L2275.8 1826.0L2289.1 1834.4L2296.4 1835.6L2300.7 1837.0L2302.3 1836.9L2305.3 1836.1L2307.6 1834.2L2310.7 1829.8L2313.3 1825.2L2314.0 1822.6L2313.2 1817.1L2312.0 1812.2L2310.2 1810.0L2307.6 1808.9L2304.4 1808.5L2248.7 1808.6L2246.1 1810.0L2244.5 1812.3L2243.7 1817.2L2241.7 1824.3L2238.3 1831.2L2236.4 1837.9L2233.1 1839.1L2230.9 1813.3L2229.9 1810.6L2229.0 1809.5L2227.8 1808.6L2225.0 1807.9L2209.2 1807.8L2206.5 1809.2L2204.9 1811.8L2204.7 1814.8Z" fill="#EDB120" fill-rule="evenodd" stroke="none"/>
</g>
<rect x="1975.0" y="1476.0" width="329.0" height="329.5" fill="#fff" stroke="#262626" stroke-width="8"/>
<line x1="1995" y1="1537.2" x2="2209" y2="1537.2" stroke="#0072BD" stroke-width="22"/>
<text transform="translate(2225.14 1549.00) scale(0.8571 1)" font-size="70" fill="#000">E</text>
<line x1="1995" y1="1641.0" x2="2209" y2="1641.0" stroke="#D95319" stroke-width="22"/>
<text transform="translate(2225.68 1653.00) scale(1.0163 1)" font-size="70" fill="#000">N</text>
<line x1="1995" y1="1744.5" x2="2209" y2="1744.5" stroke="#EDB120" stroke-width="22"/>
<text transform="translate(2222.91 1756.30) scale(1.0426 1)" font-size="70" fill="#000">U</text>
<text transform="translate(167.30 1490.30) scale(1.0341 1)" font-size="75" fill="#262626">1.5</text>
<text transform="translate(167.26 1554.60) scale(1.0400 1)" font-size="75" fill="#262626">1.2</text>
<text transform="translate(169.68 1618.90) scale(1.0080 1)" font-size="75" fill="#262626">0.9</text>
<text transform="translate(169.69 1683.20) scale(1.0022 1)" font-size="75" fill="#262626">0.6</text>
<text transform="translate(169.68 1747.50) scale(1.0080 1)" font-size="75" fill="#262626">0.3</text>
<text transform="translate(228.54 1811.80) scale(1.0187 1)" font-size="75" fill="#262626">0</text>
<text transform="translate(130.99 1876.10) scale(1.0032 1)" font-size="75" fill="#262626" dx="0 -4">−0.3</text>
<text transform="translate(130.97 1940.40) scale(1.0071 1)" font-size="75" fill="#262626" dx="0 -4">−0.6</text>
<text transform="translate(130.99 2004.70) scale(1.0032 1)" font-size="75" fill="#262626" dx="0 -4">−0.9</text>
<text transform="translate(130.94 2069.00) scale(1.0152 1)" font-size="75" fill="#262626" dx="0 -4">−1.2</text>
<text transform="translate(130.99 2133.30) scale(1.0032 1)" font-size="75" fill="#262626" dx="0 -4">−1.5</text>
<text transform="translate(69.00 2089.91) rotate(-90) scale(0.9812 1)" font-size="85" fill="#262626" aria-label="SGOC Error(m)">SGOC Error<tspan font-size="75" dy="-7.2">(</tspan><tspan dy="7.2">m</tspan><tspan font-size="75" dy="-7.2">)</tspan></text>
</g>
<text transform="translate(275.69 2215.40) scale(1.0688 1)" font-size="75" fill="#262626">0</text>
<text transform="translate(442.92 2215.40) scale(1.1032 1)" font-size="75" fill="#262626">2</text>
<text transform="translate(612.59 2215.40) scale(0.9771 1)" font-size="75" fill="#262626">4</text>
<text transform="translate(777.69 2215.40) scale(1.0688 1)" font-size="75" fill="#262626">6</text>
<text transform="translate(945.03 2215.40) scale(1.0688 1)" font-size="75" fill="#262626">8</text>
<text transform="translate(1091.07 2215.40) scale(1.0667 1)" font-size="75" fill="#262626">10</text>
<text transform="translate(1258.40 2215.40) scale(1.0667 1)" font-size="75" fill="#262626">12</text>
<text transform="translate(1425.92 2215.40) scale(1.0353 1)" font-size="75" fill="#262626">14</text>
<text transform="translate(1593.16 2215.40) scale(1.0507 1)" font-size="75" fill="#262626">16</text>
<text transform="translate(1760.40 2215.40) scale(1.0667 1)" font-size="75" fill="#262626">18</text>
<text transform="translate(1931.07 2215.40) scale(1.0203 1)" font-size="75" fill="#262626">20</text>
<text transform="translate(2098.41 2215.40) scale(1.0203 1)" font-size="75" fill="#262626">22</text>
<text transform="translate(2265.83 2215.40) scale(0.9915 1)" font-size="75" fill="#262626">24</text>
<text transform="translate(1148.65 2304.00) scale(1.0493 1)" font-size="85" fill="#262626" aria-label="Time(h)">Time<tspan font-size="75" dy="-7.2">(</tspan><tspan dy="7.2">h</tspan><tspan font-size="75" dy="-7.2">)</tspan></text>
</svg></body></html>
